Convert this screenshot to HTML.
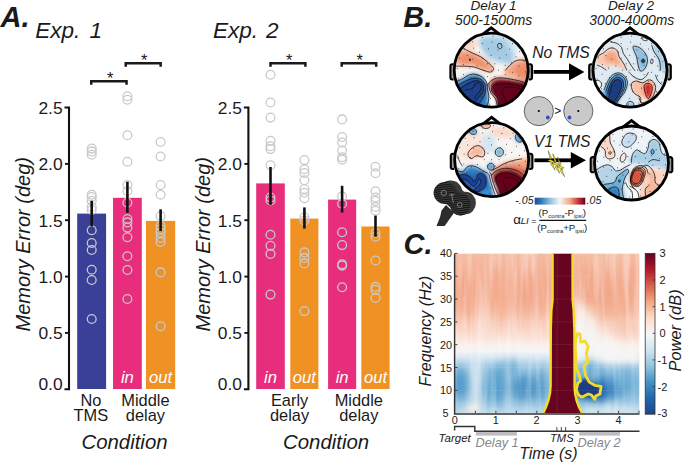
<!DOCTYPE html>
<html><head><meta charset="utf-8"><title>Figure</title>
<style>
html,body{margin:0;padding:0;background:#fff;}
body{width:685px;height:464px;overflow:hidden;}
svg{display:block;font-family:"Liberation Sans",sans-serif;}
</style></head><body>
<svg width="685" height="464" viewBox="0 0 685 464">
<rect width="685" height="464" fill="#fff"/>
<rect x="77.2" y="213.6" width="28.9" height="175.4" fill="#3a3f98"/>
<rect x="113.0" y="197.8" width="28.8" height="191.2" fill="#e72d7b"/>
<rect x="146.0" y="220.9" width="29.2" height="168.1" fill="#f09223"/>
<circle cx="91.7" cy="148.6" r="4.4" fill="none" stroke="#c9c9c9" stroke-width="1.3"/>
<circle cx="91.7" cy="151.4" r="4.4" fill="none" stroke="#c9c9c9" stroke-width="1.3"/>
<circle cx="91.7" cy="154.8" r="4.4" fill="none" stroke="#c9c9c9" stroke-width="1.3"/>
<circle cx="91.7" cy="194.8" r="4.4" fill="none" stroke="#c9c9c9" stroke-width="1.3"/>
<circle cx="91.7" cy="197" r="4.4" fill="none" stroke="#c9c9c9" stroke-width="1.3"/>
<circle cx="91.7" cy="200.7" r="4.4" fill="none" stroke="#c9c9c9" stroke-width="1.3"/>
<circle cx="91.7" cy="207" r="4.4" fill="none" stroke="#c9c9c9" stroke-width="1.3"/>
<circle cx="91.7" cy="210" r="4.4" fill="none" stroke="#c9c9c9" stroke-width="1.3"/>
<circle cx="91.7" cy="230.3" r="4.4" fill="none" stroke="#c9c9c9" stroke-width="1.3"/>
<circle cx="91.7" cy="243" r="4.4" fill="none" stroke="#c9c9c9" stroke-width="1.3"/>
<circle cx="91.7" cy="250" r="4.4" fill="none" stroke="#c9c9c9" stroke-width="1.3"/>
<circle cx="91.7" cy="269.7" r="4.4" fill="none" stroke="#c9c9c9" stroke-width="1.3"/>
<circle cx="91.7" cy="280" r="4.4" fill="none" stroke="#c9c9c9" stroke-width="1.3"/>
<circle cx="91.7" cy="319" r="4.4" fill="none" stroke="#c9c9c9" stroke-width="1.3"/>
<circle cx="127.4" cy="96.2" r="4.4" fill="none" stroke="#c9c9c9" stroke-width="1.3"/>
<circle cx="127.4" cy="99.7" r="4.4" fill="none" stroke="#c9c9c9" stroke-width="1.3"/>
<circle cx="127.4" cy="135.2" r="4.4" fill="none" stroke="#c9c9c9" stroke-width="1.3"/>
<circle cx="127.4" cy="161.7" r="4.4" fill="none" stroke="#c9c9c9" stroke-width="1.3"/>
<circle cx="127.4" cy="185" r="4.4" fill="none" stroke="#c9c9c9" stroke-width="1.3"/>
<circle cx="127.4" cy="191" r="4.4" fill="none" stroke="#c9c9c9" stroke-width="1.3"/>
<circle cx="127.4" cy="202.8" r="4.4" fill="none" stroke="#c9c9c9" stroke-width="1.3"/>
<circle cx="127.4" cy="219" r="4.4" fill="none" stroke="#c9c9c9" stroke-width="1.3"/>
<circle cx="127.4" cy="222.4" r="4.4" fill="none" stroke="#c9c9c9" stroke-width="1.3"/>
<circle cx="127.4" cy="227.6" r="4.4" fill="none" stroke="#c9c9c9" stroke-width="1.3"/>
<circle cx="127.4" cy="237.2" r="4.4" fill="none" stroke="#c9c9c9" stroke-width="1.3"/>
<circle cx="127.4" cy="256.2" r="4.4" fill="none" stroke="#c9c9c9" stroke-width="1.3"/>
<circle cx="127.4" cy="270" r="4.4" fill="none" stroke="#c9c9c9" stroke-width="1.3"/>
<circle cx="127.4" cy="299" r="4.4" fill="none" stroke="#c9c9c9" stroke-width="1.3"/>
<text x="127.4" y="383.2" text-anchor="middle" font-style="italic" font-size="16.6" fill="#fff">in</text>
<circle cx="160.6" cy="142" r="4.4" fill="none" stroke="#c9c9c9" stroke-width="1.3"/>
<circle cx="160.6" cy="156.5" r="4.4" fill="none" stroke="#c9c9c9" stroke-width="1.3"/>
<circle cx="160.6" cy="185" r="4.4" fill="none" stroke="#c9c9c9" stroke-width="1.3"/>
<circle cx="160.6" cy="194.8" r="4.4" fill="none" stroke="#c9c9c9" stroke-width="1.3"/>
<circle cx="160.6" cy="216" r="4.4" fill="none" stroke="#c9c9c9" stroke-width="1.3"/>
<circle cx="160.6" cy="225.9" r="4.4" fill="none" stroke="#c9c9c9" stroke-width="1.3"/>
<circle cx="160.6" cy="229.3" r="4.4" fill="none" stroke="#c9c9c9" stroke-width="1.3"/>
<circle cx="160.6" cy="232.8" r="4.4" fill="none" stroke="#c9c9c9" stroke-width="1.3"/>
<circle cx="160.6" cy="238" r="4.4" fill="none" stroke="#c9c9c9" stroke-width="1.3"/>
<circle cx="160.6" cy="242" r="4.4" fill="none" stroke="#c9c9c9" stroke-width="1.3"/>
<circle cx="160.6" cy="272.4" r="4.4" fill="none" stroke="#c9c9c9" stroke-width="1.3"/>
<circle cx="160.6" cy="326.2" r="4.4" fill="none" stroke="#c9c9c9" stroke-width="1.3"/>
<text x="160.6" y="383.2" text-anchor="middle" font-style="italic" font-size="16.6" fill="#fff">out</text>
<line x1="91.7" y1="200.7" x2="91.7" y2="226.5" stroke="#111" stroke-width="2.6"/>
<line x1="127.4" y1="181.7" x2="127.4" y2="212.7" stroke="#111" stroke-width="2.6"/>
<line x1="160.6" y1="209.3" x2="160.6" y2="231" stroke="#111" stroke-width="2.6"/>
<path d="M64.5,107.5 H69.0 V389.3 H64.5" fill="none" stroke="#111" stroke-width="2.1" stroke-linecap="butt"/>
<line x1="65.0" y1="332.9" x2="69.0" y2="332.9" stroke="#111" stroke-width="1.9"/>
<line x1="65.0" y1="276.6" x2="69.0" y2="276.6" stroke="#111" stroke-width="1.9"/>
<line x1="65.0" y1="220.2" x2="69.0" y2="220.2" stroke="#111" stroke-width="1.9"/>
<line x1="65.0" y1="163.9" x2="69.0" y2="163.9" stroke="#111" stroke-width="1.9"/>
<text x="62.6" y="390.0" text-anchor="end" font-size="17.4" fill="#1a1a1a">0.0</text>
<text x="62.6" y="339.3" text-anchor="end" font-size="17.4" fill="#1a1a1a">0.5</text>
<text x="62.6" y="283.0" text-anchor="end" font-size="17.4" fill="#1a1a1a">1.0</text>
<text x="62.6" y="226.6" text-anchor="end" font-size="17.4" fill="#1a1a1a">1.5</text>
<text x="62.6" y="170.3" text-anchor="end" font-size="17.4" fill="#1a1a1a">2.0</text>
<text x="62.6" y="113.9" text-anchor="end" font-size="17.4" fill="#1a1a1a">2.5</text>
<path d="M91.25,84.75 V81.25 H126.55 V84.75" fill="none" stroke="#1a1a1a" stroke-width="2.5"/>
<text x="110.2" y="83.65" text-anchor="middle" font-size="16.5" fill="#1a1a1a">*</text>
<path d="M125.75,66.85 V63.35 H160.65 V66.85" fill="none" stroke="#1a1a1a" stroke-width="2.5"/>
<text x="144.3" y="65.75" text-anchor="middle" font-size="16.5" fill="#1a1a1a">*</text>
<text transform="translate(30.2,244.3) rotate(-90)" text-anchor="middle" font-style="italic" font-size="20" fill="#1a1a1a">Memory Error (deg)</text>
<text x="90.9" y="405.5" text-anchor="middle" font-size="16.4" fill="#1a1a1a">No</text>
<text x="90.9" y="421.2" text-anchor="middle" font-size="16.4" fill="#1a1a1a">TMS</text>
<text x="145.4" y="405.5" text-anchor="middle" font-size="16.4" fill="#1a1a1a">Middle</text>
<text x="145.4" y="421.2" text-anchor="middle" font-size="16.4" fill="#1a1a1a">delay</text>
<text x="124.5" y="449.1" text-anchor="middle" font-style="italic" font-size="20.4" fill="#1a1a1a">Condition</text>
<rect x="256.2" y="183.4" width="28.6" height="205.6" fill="#e72d7b"/>
<rect x="290.3" y="218.6" width="28.1" height="170.4" fill="#f09223"/>
<rect x="328.1" y="199.6" width="28.1" height="189.4" fill="#e72d7b"/>
<rect x="361.3" y="226.5" width="28.3" height="162.5" fill="#f09223"/>
<circle cx="270.5" cy="74.7" r="4.4" fill="none" stroke="#c9c9c9" stroke-width="1.3"/>
<circle cx="270.5" cy="102.5" r="4.4" fill="none" stroke="#c9c9c9" stroke-width="1.3"/>
<circle cx="270.5" cy="117.6" r="4.4" fill="none" stroke="#c9c9c9" stroke-width="1.3"/>
<circle cx="270.5" cy="140.7" r="4.4" fill="none" stroke="#c9c9c9" stroke-width="1.3"/>
<circle cx="270.5" cy="146.2" r="4.4" fill="none" stroke="#c9c9c9" stroke-width="1.3"/>
<circle cx="270.5" cy="149.1" r="4.4" fill="none" stroke="#c9c9c9" stroke-width="1.3"/>
<circle cx="270.5" cy="165.2" r="4.4" fill="none" stroke="#c9c9c9" stroke-width="1.3"/>
<circle cx="270.5" cy="197.5" r="4.4" fill="none" stroke="#c9c9c9" stroke-width="1.3"/>
<circle cx="270.5" cy="200.5" r="4.4" fill="none" stroke="#c9c9c9" stroke-width="1.3"/>
<circle cx="270.5" cy="234.8" r="4.4" fill="none" stroke="#c9c9c9" stroke-width="1.3"/>
<circle cx="270.5" cy="245.8" r="4.4" fill="none" stroke="#c9c9c9" stroke-width="1.3"/>
<circle cx="270.5" cy="253.9" r="4.4" fill="none" stroke="#c9c9c9" stroke-width="1.3"/>
<circle cx="270.5" cy="294.6" r="4.4" fill="none" stroke="#c9c9c9" stroke-width="1.3"/>
<text x="270.5" y="383.2" text-anchor="middle" font-style="italic" font-size="16.6" fill="#fff">in</text>
<circle cx="304.4" cy="160.1" r="4.4" fill="none" stroke="#c9c9c9" stroke-width="1.3"/>
<circle cx="304.4" cy="169.3" r="4.4" fill="none" stroke="#c9c9c9" stroke-width="1.3"/>
<circle cx="304.4" cy="173" r="4.4" fill="none" stroke="#c9c9c9" stroke-width="1.3"/>
<circle cx="304.4" cy="180.3" r="4.4" fill="none" stroke="#c9c9c9" stroke-width="1.3"/>
<circle cx="304.4" cy="189" r="4.4" fill="none" stroke="#c9c9c9" stroke-width="1.3"/>
<circle cx="304.4" cy="192.7" r="4.4" fill="none" stroke="#c9c9c9" stroke-width="1.3"/>
<circle cx="304.4" cy="198.2" r="4.4" fill="none" stroke="#c9c9c9" stroke-width="1.3"/>
<circle cx="304.4" cy="217.2" r="4.4" fill="none" stroke="#c9c9c9" stroke-width="1.3"/>
<circle cx="304.4" cy="220.5" r="4.4" fill="none" stroke="#c9c9c9" stroke-width="1.3"/>
<circle cx="304.4" cy="252.4" r="4.4" fill="none" stroke="#c9c9c9" stroke-width="1.3"/>
<circle cx="304.4" cy="257.9" r="4.4" fill="none" stroke="#c9c9c9" stroke-width="1.3"/>
<circle cx="304.4" cy="263.4" r="4.4" fill="none" stroke="#c9c9c9" stroke-width="1.3"/>
<circle cx="304.4" cy="311.1" r="4.4" fill="none" stroke="#c9c9c9" stroke-width="1.3"/>
<text x="304.4" y="383.2" text-anchor="middle" font-style="italic" font-size="16.6" fill="#fff">out</text>
<circle cx="342.1" cy="119.4" r="4.4" fill="none" stroke="#c9c9c9" stroke-width="1.3"/>
<circle cx="342.1" cy="137" r="4.4" fill="none" stroke="#c9c9c9" stroke-width="1.3"/>
<circle cx="342.1" cy="142.5" r="4.4" fill="none" stroke="#c9c9c9" stroke-width="1.3"/>
<circle cx="342.1" cy="150.6" r="4.4" fill="none" stroke="#c9c9c9" stroke-width="1.3"/>
<circle cx="342.1" cy="157.2" r="4.4" fill="none" stroke="#c9c9c9" stroke-width="1.3"/>
<circle cx="342.1" cy="159.7" r="4.4" fill="none" stroke="#c9c9c9" stroke-width="1.3"/>
<circle cx="342.1" cy="196.4" r="4.4" fill="none" stroke="#c9c9c9" stroke-width="1.3"/>
<circle cx="342.1" cy="203.7" r="4.4" fill="none" stroke="#c9c9c9" stroke-width="1.3"/>
<circle cx="342.1" cy="232.3" r="4.4" fill="none" stroke="#c9c9c9" stroke-width="1.3"/>
<circle cx="342.1" cy="245.1" r="4.4" fill="none" stroke="#c9c9c9" stroke-width="1.3"/>
<circle cx="342.1" cy="264.2" r="4.4" fill="none" stroke="#c9c9c9" stroke-width="1.3"/>
<circle cx="342.1" cy="265.6" r="4.4" fill="none" stroke="#c9c9c9" stroke-width="1.3"/>
<circle cx="342.1" cy="287.3" r="4.4" fill="none" stroke="#c9c9c9" stroke-width="1.3"/>
<text x="342.1" y="383.2" text-anchor="middle" font-style="italic" font-size="16.6" fill="#fff">in</text>
<circle cx="375.5" cy="166.7" r="4.4" fill="none" stroke="#c9c9c9" stroke-width="1.3"/>
<circle cx="375.5" cy="173.3" r="4.4" fill="none" stroke="#c9c9c9" stroke-width="1.3"/>
<circle cx="375.5" cy="191.3" r="4.4" fill="none" stroke="#c9c9c9" stroke-width="1.3"/>
<circle cx="375.5" cy="197.5" r="4.4" fill="none" stroke="#c9c9c9" stroke-width="1.3"/>
<circle cx="375.5" cy="201" r="4.4" fill="none" stroke="#c9c9c9" stroke-width="1.3"/>
<circle cx="375.5" cy="207" r="4.4" fill="none" stroke="#c9c9c9" stroke-width="1.3"/>
<circle cx="375.5" cy="210.7" r="4.4" fill="none" stroke="#c9c9c9" stroke-width="1.3"/>
<circle cx="375.5" cy="233" r="4.4" fill="none" stroke="#c9c9c9" stroke-width="1.3"/>
<circle cx="375.5" cy="236.7" r="4.4" fill="none" stroke="#c9c9c9" stroke-width="1.3"/>
<circle cx="375.5" cy="260.5" r="4.4" fill="none" stroke="#c9c9c9" stroke-width="1.3"/>
<circle cx="375.5" cy="286.9" r="4.4" fill="none" stroke="#c9c9c9" stroke-width="1.3"/>
<circle cx="375.5" cy="289.8" r="4.4" fill="none" stroke="#c9c9c9" stroke-width="1.3"/>
<circle cx="375.5" cy="297.9" r="4.4" fill="none" stroke="#c9c9c9" stroke-width="1.3"/>
<text x="375.5" y="383.2" text-anchor="middle" font-style="italic" font-size="16.6" fill="#fff">out</text>
<line x1="270.5" y1="167" x2="270.5" y2="204.8" stroke="#111" stroke-width="2.6"/>
<line x1="304.4" y1="207.4" x2="304.4" y2="228.6" stroke="#111" stroke-width="2.6"/>
<line x1="342.1" y1="185.8" x2="342.1" y2="212.5" stroke="#111" stroke-width="2.6"/>
<line x1="375.5" y1="215.6" x2="375.5" y2="236.7" stroke="#111" stroke-width="2.6"/>
<path d="M243.9,107.5 H248.4 V389.3 H243.9" fill="none" stroke="#111" stroke-width="2.1" stroke-linecap="butt"/>
<line x1="244.4" y1="332.9" x2="248.4" y2="332.9" stroke="#111" stroke-width="1.9"/>
<line x1="244.4" y1="276.6" x2="248.4" y2="276.6" stroke="#111" stroke-width="1.9"/>
<line x1="244.4" y1="220.2" x2="248.4" y2="220.2" stroke="#111" stroke-width="1.9"/>
<line x1="244.4" y1="163.9" x2="248.4" y2="163.9" stroke="#111" stroke-width="1.9"/>
<text x="242.0" y="390.0" text-anchor="end" font-size="17.4" fill="#1a1a1a">0.0</text>
<text x="242.0" y="339.3" text-anchor="end" font-size="17.4" fill="#1a1a1a">0.5</text>
<text x="242.0" y="283.0" text-anchor="end" font-size="17.4" fill="#1a1a1a">1.0</text>
<text x="242.0" y="226.6" text-anchor="end" font-size="17.4" fill="#1a1a1a">1.5</text>
<text x="242.0" y="170.3" text-anchor="end" font-size="17.4" fill="#1a1a1a">2.0</text>
<text x="242.0" y="113.9" text-anchor="end" font-size="17.4" fill="#1a1a1a">2.5</text>
<path d="M270.5,66.85 V63.35 H305.4 V66.85" fill="none" stroke="#1a1a1a" stroke-width="2.5"/>
<text x="289.2" y="65.75" text-anchor="middle" font-size="16.5" fill="#1a1a1a">*</text>
<path d="M341.7,66.85 V63.35 H376.2 V66.85" fill="none" stroke="#1a1a1a" stroke-width="2.5"/>
<text x="359.6" y="65.75" text-anchor="middle" font-size="16.5" fill="#1a1a1a">*</text>
<text transform="translate(209.7,244.3) rotate(-90)" text-anchor="middle" font-style="italic" font-size="20" fill="#1a1a1a">Memory Error (deg)</text>
<text x="289.6" y="405.5" text-anchor="middle" font-size="16.4" fill="#1a1a1a">Early</text>
<text x="289.6" y="421.2" text-anchor="middle" font-size="16.4" fill="#1a1a1a">delay</text>
<text x="358.8" y="405.5" text-anchor="middle" font-size="16.4" fill="#1a1a1a">Middle</text>
<text x="358.8" y="421.2" text-anchor="middle" font-size="16.4" fill="#1a1a1a">delay</text>
<text x="326.1" y="449.1" text-anchor="middle" font-style="italic" font-size="20.4" fill="#1a1a1a">Condition</text>
<text x="0.6" y="27.1" font-weight="bold" font-style="italic" font-size="29" fill="#1a1a1a">A.</text>
<text x="35.2" y="37.8" font-style="italic" font-size="22.6" word-spacing="2.8" fill="#1a1a1a">Exp. 1</text>
<text x="212.9" y="37.9" font-style="italic" font-size="22.6" word-spacing="1.6" fill="#1a1a1a">Exp. 2</text>
<filter id="hb1" x="-20%" y="-20%" width="140%" height="140%"><feGaussianBlur stdDeviation="2.2"/></filter><filter id="hs1" x="-20%" y="-20%" width="140%" height="140%"><feGaussianBlur stdDeviation="0.9"/></filter><clipPath id="hc1"><circle cx="491.2" cy="70.2" r="37.0"/></clipPath>
<path d="M453.6,64.3 h-1.3 a1.9,1.9 0 0 0 -1.9,1.9 v11.4 a1.9,1.9 0 0 0 1.9,1.9 h1.3" fill="#9a9a9a" stroke="#000" stroke-width="2.1"/>
<path d="M528.8,64.3 h1.3 a1.9,1.9 0 0 1 1.9,1.9 v11.4 a1.9,1.9 0 0 1 -1.9,1.9 h-1.3" fill="#9a9a9a" stroke="#000" stroke-width="2.1"/>
<path d="M482.6,34.4 L491.2,27.8 L499.8,34.4" fill="#fff" stroke="#000" stroke-width="2.8" stroke-linejoin="miter"/>
<g clip-path="url(#hc1)">
<rect x="452.2" y="31.200000000000003" width="78.0" height="78.0" fill="#f8f5f3"/>
<g filter="url(#hb1)">
<path d="M517.4,48.2 C517.4,50.8 516.5,53.8 515.1,56.1 C513.7,58.4 511.3,60.6 508.9,62.0 C506.4,63.3 503.2,64.1 500.3,64.1 C497.5,64.1 494.3,63.3 491.8,62.0 C489.3,60.6 487.0,58.4 485.6,56.1 C484.1,53.8 483.3,50.8 483.3,48.2 C483.3,45.5 484.1,42.5 485.6,40.2 C487.0,37.9 489.3,35.7 491.8,34.4 C494.3,33.1 497.5,32.3 500.3,32.3 C503.2,32.3 506.4,33.1 508.9,34.4 C511.3,35.7 513.7,37.9 515.1,40.2 C516.5,42.5 517.4,45.5 517.4,48.2 Z" fill="#d3e5f1"/>
<path d="M509.8,46.2 C509.8,47.7 509.3,49.4 508.5,50.7 C507.6,52.0 506.3,53.2 504.8,54.0 C503.3,54.7 501.4,55.2 499.8,55.2 C498.1,55.2 496.2,54.7 494.7,54.0 C493.3,53.2 491.9,52.0 491.0,50.7 C490.2,49.4 489.7,47.7 489.7,46.2 C489.7,44.8 490.2,43.1 491.0,41.8 C491.9,40.5 493.3,39.3 494.7,38.5 C496.2,37.8 498.1,37.3 499.8,37.3 C501.4,37.3 503.3,37.8 504.8,38.5 C506.3,39.3 507.6,40.5 508.5,41.8 C509.3,43.1 509.8,44.8 509.8,46.2 Z" fill="#b3d3e8"/>
<path d="M504.8,44.9 C504.8,45.7 504.5,46.5 504.1,47.2 C503.7,47.9 503.0,48.5 502.3,48.9 C501.5,49.3 500.6,49.5 499.8,49.5 C498.9,49.5 498.0,49.3 497.2,48.9 C496.5,48.5 495.8,47.9 495.4,47.2 C495.0,46.5 494.7,45.7 494.7,44.9 C494.7,44.1 495.0,43.2 495.4,42.6 C495.8,41.9 496.5,41.2 497.2,40.9 C498.0,40.5 498.9,40.2 499.8,40.2 C500.6,40.2 501.5,40.5 502.3,40.9 C503.0,41.2 503.7,41.9 504.1,42.6 C504.5,43.2 504.8,44.1 504.8,44.9 Z" fill="#9ecae1"/>
<path d="M515.9,58.9 C515.9,60.0 515.4,61.3 514.7,62.2 C514.0,63.2 512.7,64.2 511.5,64.7 C510.2,65.3 508.6,65.6 507.1,65.6 C505.7,65.6 504.0,65.3 502.8,64.7 C501.5,64.2 500.3,63.2 499.6,62.2 C498.8,61.3 498.4,60.0 498.4,58.9 C498.4,57.7 498.8,56.4 499.6,55.5 C500.3,54.5 501.5,53.5 502.8,53.0 C504.0,52.4 505.7,52.1 507.1,52.1 C508.6,52.1 510.2,52.4 511.5,53.0 C512.7,53.5 514.0,54.5 514.7,55.5 C515.4,56.4 515.9,57.7 515.9,58.9 Z" fill="#d3e5f1"/>
<path d="M480.0,38.2 C482.0,36.2 488.8,36.0 492.9,37.0 C497.0,38.0 501.2,41.3 504.6,44.0 C507.9,46.7 511.8,50.3 512.7,53.4 C513.7,56.4 512.3,60.8 510.4,62.1 C508.4,63.5 504.6,62.4 501.1,61.5 C497.5,60.7 492.7,59.0 489.4,56.9 C486.1,54.7 482.8,51.8 481.2,48.7 C479.6,45.6 478.1,40.1 480.0,38.2 Z" fill="#a3cbe4"/>
<path d="M477.1,43.7 C477.1,44.7 476.6,45.8 475.9,46.6 C475.2,47.5 474.0,48.3 472.7,48.8 C471.4,49.2 469.8,49.5 468.3,49.5 C466.9,49.5 465.2,49.2 464.0,48.8 C462.7,48.3 461.5,47.5 460.8,46.6 C460.0,45.8 459.6,44.7 459.6,43.7 C459.6,42.8 460.0,41.7 460.8,40.8 C461.5,40.0 462.7,39.2 464.0,38.7 C465.2,38.2 466.9,37.9 468.3,37.9 C469.8,37.9 471.4,38.2 472.7,38.7 C474.0,39.2 475.2,40.0 475.9,40.8 C476.6,41.7 477.1,42.8 477.1,43.7 Z" fill="#fbd5c3"/>
<path d="M454.8,51.1 C457.0,49.2 464.1,50.0 468.3,50.7 C472.5,51.4 476.4,53.3 480.0,55.4 C483.6,57.4 487.7,60.9 490.1,63.1 C492.4,65.4 494.0,67.4 494.1,68.9 C494.2,70.4 492.7,71.9 490.6,72.0 C488.6,72.2 485.0,70.9 481.9,69.9 C478.8,68.9 475.8,66.8 472.2,66.2 C468.7,65.6 463.5,67.0 460.6,66.2 C457.7,65.5 455.7,64.3 454.8,61.8 C453.8,59.2 452.5,52.9 454.8,51.1 Z" fill="#f4a582"/>
<path d="M460.6,55.0 C461.9,53.7 467.0,54.2 470.3,55.0 C473.5,55.8 476.9,57.9 480.0,59.8 C483.0,61.8 488.1,65.2 488.7,66.6 C489.3,68.0 486.3,68.6 483.9,68.2 C481.4,67.7 477.7,64.6 474.2,63.7 C470.6,62.8 464.8,64.2 462.5,62.7 C460.3,61.3 459.3,56.3 460.6,55.0 Z" fill="#ec8c6b"/>
<path d="M510.0,65.1 C512.3,63.4 514.7,60.9 518.8,59.8 C522.8,58.8 531.7,55.5 534.3,58.9 C536.9,62.2 535.9,76.6 534.3,80.2 C532.7,83.7 528.1,80.8 524.6,80.2 C521.0,79.6 516.2,77.6 512.9,76.7 C509.6,75.8 506.1,76.0 504.8,74.8 C503.5,73.6 504.3,71.1 505.2,69.5 C506.1,67.9 507.8,66.7 510.0,65.1 Z" fill="#f4a582"/>
<path d="M514.9,67.6 C515.9,65.5 521.3,64.1 524.6,63.7 C527.8,63.3 532.7,62.5 534.3,65.1 C535.9,67.6 536.9,77.3 534.3,79.2 C531.7,81.1 522.0,78.2 518.8,76.3 C515.5,74.4 513.9,69.7 514.9,67.6 Z" fill="#ec8c6b"/>
<path d="M454.3,82.3 C455.3,80.7 457.5,81.2 459.0,80.5 C460.6,79.8 462.1,79.1 463.7,78.2 C465.2,77.3 466.6,75.9 468.4,75.3 C470.1,74.6 472.2,74.0 474.2,74.1 C476.1,74.2 478.3,75.0 480.0,75.8 C481.8,76.7 483.5,78.0 484.7,79.3 C485.9,80.7 486.6,82.3 487.0,84.0 C487.5,85.8 487.3,87.9 487.6,89.9 C487.9,91.8 488.7,93.8 488.8,95.7 C488.9,97.6 488.7,99.2 488.4,101.5 C488.1,103.9 490.2,108.4 487.0,109.7 C483.9,111.1 474.4,111.3 469.5,109.7 C464.7,108.2 460.6,103.7 457.8,100.4 C455.1,97.1 453.8,92.9 453.2,89.9 C452.6,86.8 453.4,83.8 454.3,82.3 Z" fill="#2f7fc4"/>
<path d="M458.4,86.1 C459.8,84.5 462.8,82.8 464.8,81.7 C466.9,80.6 468.7,79.9 470.7,79.3 C472.6,78.8 474.6,78.2 476.5,78.4 C478.4,78.6 480.7,79.6 482.1,80.7 C483.5,81.9 484.4,83.3 484.9,85.2 C485.4,87.1 485.6,90.1 485.2,92.2 C484.8,94.3 483.6,96.2 482.6,98.0 C481.6,99.9 480.3,101.3 479.4,103.3 C478.6,105.2 479.5,108.6 477.7,109.7 C475.8,110.8 471.2,111.2 468.4,109.7 C465.5,108.3 462.7,104.0 460.8,101.0 C458.8,97.9 457.1,94.1 456.7,91.6 C456.3,89.1 457.1,87.8 458.4,86.1 Z" fill="#1c3f8c"/>
<path d="M489.4,81.7 C490.3,80.1 492.7,78.9 494.6,78.2 C496.6,77.5 498.4,77.5 501.1,77.6 C503.7,77.7 506.9,78.2 510.4,78.8 C513.9,79.3 518.8,80.1 522.1,81.1 C525.4,82.1 528.9,79.8 530.3,84.6 C531.6,89.4 535.7,105.5 530.3,109.7 C524.8,113.9 503.4,111.6 497.6,109.7 C491.7,107.9 496.3,101.3 495.2,98.6 C494.1,95.9 492.1,95.2 491.1,93.4 C490.1,91.5 489.4,89.5 489.1,87.5 C488.8,85.6 488.5,83.2 489.4,81.7 Z" fill="#d6604d"/>
<path d="M491.1,83.8 C491.9,82.5 493.8,81.0 495.4,80.3 C497.1,79.5 498.6,79.3 501.1,79.3 C503.5,79.4 507.3,80.0 510.4,80.5 C513.5,81.0 516.6,81.3 519.7,82.3 C522.9,83.2 527.5,81.5 529.1,86.1 C530.6,90.7 534.1,105.8 529.1,109.7 C524.0,113.6 504.1,111.5 498.7,109.7 C493.4,108.0 498.0,101.9 497.0,99.2 C496.0,96.5 493.7,95.2 492.6,93.4 C491.6,91.5 491.0,89.7 490.8,88.1 C490.5,86.5 490.3,85.1 491.1,83.8 Z" fill="#67001f"/>
</g>
<g filter="url(#hs1)">
<path d="M485.6,75.3 C486.0,74.8 487.5,75.9 488.2,77.0 C488.9,78.1 489.4,79.9 489.6,81.7 C489.8,83.4 489.0,85.6 489.3,87.5 C489.5,89.5 490.1,91.5 491.0,93.4 C491.9,95.2 493.6,95.9 494.5,98.6 C495.4,101.3 497.3,107.9 496.6,109.7 C495.9,111.6 491.6,111.1 490.3,109.7 C489.0,108.4 489.1,103.8 488.9,101.5 C488.8,99.2 489.5,97.9 489.4,95.9 C489.2,94.0 488.4,91.8 488.1,89.9 C487.8,87.9 487.9,85.7 487.5,84.0 C487.1,82.4 486.2,81.4 485.9,79.9 C485.6,78.5 485.2,75.7 485.6,75.3 Z" fill="#fbfbfb"/>
<path d="M461.3,88.7 C462.5,87.0 465.2,85.5 467.2,84.3 C469.1,83.0 471.1,81.9 473.0,81.3 C475.0,80.8 477.2,80.6 478.9,81.1 C480.5,81.6 482.3,82.9 483.0,84.6 C483.7,86.3 483.6,89.1 483.1,91.0 C482.5,92.9 480.8,94.2 479.6,95.9 C478.4,97.7 476.8,99.4 475.9,101.5 C475.0,103.6 475.5,107.4 474.2,108.5 C472.9,109.7 470.2,109.7 468.4,108.5 C466.5,107.4 464.5,103.9 463.1,101.5 C461.7,99.2 460.5,96.7 460.2,94.5 C459.9,92.4 460.2,90.4 461.3,88.7 Z" fill="#1d3f8c"/>
<path d="M493.1,85.8 C493.9,84.7 495.1,83.0 497.0,82.3 C498.9,81.5 501.5,81.4 504.6,81.4 C507.6,81.5 511.4,81.7 515.1,82.6 C518.8,83.5 524.6,82.8 526.7,86.9 C528.9,91.1 532.2,103.8 527.9,107.4 C523.6,111.0 506.0,109.9 501.1,108.5 C496.1,107.2 499.7,101.7 498.5,99.2 C497.3,96.7 495.1,95.1 494.0,93.4 C493.0,91.6 492.6,90.0 492.4,88.7 C492.3,87.4 492.4,86.8 493.1,85.8 Z" fill="#67001f"/>
</g>
<path d="M458.6,46.8 C459.8,47.3 463.2,48.5 465.4,49.5 C467.7,50.6 469.6,51.8 472.2,53.0 C474.8,54.3 478.2,55.2 480.9,56.9 C483.7,58.6 486.6,61.2 488.7,63.1 C490.8,65.1 493.2,67.1 493.5,68.5 C493.9,70.0 492.4,71.7 490.8,72.0 C489.2,72.4 486.6,71.3 483.9,70.5 C481.1,69.6 477.4,67.7 474.2,67.0 C470.9,66.3 467.5,66.3 464.5,66.2 C461.4,66.1 457.2,66.2 455.7,66.2" fill="none" stroke="#111" stroke-width="0.8"/>
<path d="M501.8,45.3 C501.9,45.7 502.0,46.3 502.0,46.7 C501.9,47.1 501.8,47.6 501.6,47.9 C501.3,48.2 501.0,48.5 500.7,48.6 C500.3,48.7 499.9,48.7 499.6,48.6 C499.2,48.5 498.8,48.3 498.5,48.0 C498.2,47.6 497.9,47.2 497.7,46.8 C497.6,46.4 497.5,45.8 497.6,45.4 C497.6,45.0 497.7,44.5 497.9,44.2 C498.2,43.9 498.5,43.6 498.8,43.5 C499.2,43.4 499.6,43.4 500.0,43.5 C500.3,43.6 500.7,43.8 501.0,44.1 C501.3,44.4 501.6,44.9 501.8,45.3 Z" fill="none" stroke="#111" stroke-width="0.8"/>
<path d="M505.2,70.5 C506.2,69.5 508.7,66.0 511.0,64.3 C513.3,62.5 514.9,60.4 518.8,60.0 C522.6,59.6 531.7,61.5 534.3,61.8" fill="none" stroke="#111" stroke-width="0.8"/>
<path d="M454.3,82.3 C455.1,82.0 457.5,81.2 459.0,80.5 C460.6,79.8 462.1,79.1 463.7,78.2 C465.2,77.3 466.6,75.9 468.4,75.3 C470.1,74.6 472.2,74.0 474.2,74.1 C476.1,74.2 478.3,75.0 480.0,75.8 C481.8,76.7 483.5,78.0 484.7,79.3 C485.9,80.7 486.6,82.3 487.0,84.0 C487.5,85.8 487.3,87.9 487.6,89.9 C487.9,91.8 488.7,93.8 488.8,95.7 C488.9,97.6 488.8,99.7 488.4,101.5 C488.1,103.4 486.9,105.9 486.6,106.8" fill="none" stroke="#111" stroke-width="0.8"/>
<path d="M456.7,86.1 C458.0,85.3 462.5,82.6 464.8,81.4 C467.2,80.3 468.7,79.7 470.7,79.1 C472.6,78.6 474.6,77.9 476.5,78.2 C478.5,78.4 480.9,79.3 482.4,80.5 C483.8,81.7 484.8,83.2 485.3,85.2 C485.8,87.1 485.7,90.1 485.3,92.2 C484.8,94.3 483.6,96.1 482.6,98.0 C481.6,100.0 479.7,102.9 479.1,103.9" fill="none" stroke="#111" stroke-width="0.8"/>
<path d="M459.9,88.9 C461.1,88.1 465.0,85.5 467.2,84.3 C469.4,83.0 471.1,81.9 473.0,81.3 C475.0,80.8 477.2,80.6 478.9,81.1 C480.5,81.6 482.3,82.9 483.0,84.6 C483.7,86.3 483.6,89.1 483.1,91.0 C482.5,92.9 480.8,94.3 479.6,95.9 C478.3,97.6 476.1,100.1 475.4,101.0" fill="none" stroke="#111" stroke-width="0.8"/>
<path d="M464.8,90.1 C465.6,90.0 468.1,89.8 469.5,89.4 C471.0,89.0 472.7,88.4 473.6,87.5 C474.5,86.6 474.0,84.8 474.9,84.0 C475.8,83.2 477.8,82.5 478.9,82.8 C479.9,83.2 481.0,85.0 481.2,86.4 C481.4,87.7 480.8,89.6 480.0,91.0 C479.3,92.4 477.8,93.4 476.8,94.8 C475.7,96.2 474.1,98.7 473.6,99.4" fill="none" stroke="#111" stroke-width="0.8"/>
<path d="M486.6,85.8 C487.0,85.2 487.8,83.8 489.1,82.6 C490.5,81.4 492.6,79.5 494.6,78.8 C496.6,78.0 498.4,77.9 501.1,77.9 C503.7,78.0 506.9,78.5 510.4,79.1 C513.9,79.7 519.0,80.7 522.1,81.7 C525.2,82.7 527.9,84.6 529.1,85.2" fill="none" stroke="#111" stroke-width="0.8"/>
<path d="M489.1,82.8 C489.1,83.6 488.8,85.8 489.1,87.5 C489.5,89.3 490.1,91.5 491.1,93.4 C492.2,95.2 494.4,96.6 495.4,98.6 C496.5,100.7 497.0,104.5 497.3,105.6" fill="none" stroke="#111" stroke-width="0.8"/>
<path d="M499.0,105.6 C498.6,104.2 498.2,99.3 497.1,97.1 C496.0,94.9 493.3,94.0 492.4,92.4 C491.5,90.8 491.2,88.8 491.7,87.5 C492.2,86.2 493.1,85.2 495.2,84.6 C497.4,84.0 501.2,83.8 504.6,83.8 C507.9,83.8 511.6,83.9 515.1,84.6 C518.6,85.3 523.8,87.5 525.6,88.1" fill="none" stroke="#111" stroke-width="0.8"/>
<path d="M507.1,104.5 C506.6,103.2 504.9,99.3 504.1,97.1 C503.3,94.9 502.3,92.8 502.3,91.3 C502.4,89.7 502.8,88.5 504.6,87.8 C506.3,87.1 509.8,86.8 512.7,87.1 C515.7,87.3 520.5,88.8 522.1,89.2" fill="none" stroke="#111" stroke-width="0.8"/>
<path d="M491.2,70.2h0M498.6,70.2h0M494.9,76.6h0M487.5,76.6h0M483.8,70.2h0M487.5,63.8h0M494.9,63.8h0M505.3,74.6h0M500.1,82.0h0M491.4,85.0h0M482.7,82.3h0M477.2,75.0h0M477.1,65.8h0M482.3,58.4h0M491.0,55.4h0M499.7,58.1h0M505.2,65.4h0M512.6,72.3h0M509.5,81.4h0M502.8,88.2h0M493.9,91.5h0M484.4,90.5h0M476.2,85.6h0M471.0,77.5h0M469.8,68.1h0M472.9,59.0h0M479.6,52.2h0M488.5,48.9h0M498.0,49.9h0M506.2,54.8h0M511.4,62.9h0M518.8,75.8h0M515.2,84.9h0M508.7,92.2h0M500.1,96.9h0M490.5,98.3h0M480.9,96.4h0M472.6,91.3h0M466.5,83.6h0M463.4,74.4h0M463.6,64.6h0M467.2,55.5h0M473.7,48.2h0M482.3,43.5h0M491.9,42.1h0M501.5,44.0h0M509.8,49.1h0M515.9,56.8h0M519.0,66.0h0M525.2,71.9h0M523.0,82.3h0M517.7,91.6h0M509.8,98.7h0M500.1,103.1h0M489.5,104.2h0M479.1,102.0h0M469.8,96.7h0M462.7,88.8h0M458.3,79.1h0M457.2,68.5h0M459.4,58.1h0M464.7,48.8h0M472.6,41.7h0M482.3,37.3h0M492.9,36.2h0M503.3,38.4h0M512.6,43.7h0M519.7,51.6h0M524.1,61.3h0" stroke="#2a2a2a" stroke-width="0.95" stroke-linecap="round" fill="none"/>
</g>
<circle cx="491.2" cy="70.2" r="37.0" fill="none" stroke="#000" stroke-width="2.8"/>
<ellipse cx="469.9" cy="59.8" rx="0.9" ry="1.3" fill="#222"/>
<filter id="hb2" x="-20%" y="-20%" width="140%" height="140%"><feGaussianBlur stdDeviation="1.7"/></filter><filter id="hs2" x="-20%" y="-20%" width="140%" height="140%"><feGaussianBlur stdDeviation="0.9"/></filter><clipPath id="hc2"><circle cx="630.0" cy="70.2" r="37.0"/></clipPath>
<path d="M592.4,64.3 h-1.3 a1.9,1.9 0 0 0 -1.9,1.9 v11.4 a1.9,1.9 0 0 0 1.9,1.9 h1.3" fill="#9a9a9a" stroke="#000" stroke-width="2.1"/>
<path d="M667.6,64.3 h1.3 a1.9,1.9 0 0 1 1.9,1.9 v11.4 a1.9,1.9 0 0 1 -1.9,1.9 h-1.3" fill="#9a9a9a" stroke="#000" stroke-width="2.1"/>
<path d="M621.4,34.4 L630.0,27.8 L638.6,34.4" fill="#fff" stroke="#000" stroke-width="2.8" stroke-linejoin="miter"/>
<g clip-path="url(#hc2)">
<rect x="591.0" y="31.200000000000003" width="78.0" height="78.0" fill="#dfeaf3"/>
<g filter="url(#hb2)">
<path d="M653.1,45.2 C653.7,44.7 656.7,47.1 658.3,49.3 C660.0,51.4 661.8,54.8 663.0,58.0 C664.2,61.2 665.8,66.5 665.3,68.5 C664.8,70.6 661.2,71.7 660.1,70.3 C658.9,68.9 659.3,63.4 658.3,60.4 C657.3,57.3 655.1,54.7 654.2,52.2 C653.4,49.7 652.4,45.7 653.1,45.2 Z" fill="#a6cde4"/>
<path d="M595.3,59.2 C595.5,57.7 598.1,56.1 599.3,55.1 C600.6,54.1 601.3,54.4 602.8,53.4 C604.4,52.3 606.9,49.6 608.7,48.7 C610.4,47.8 611.9,47.7 613.4,48.1 C614.8,48.5 616.5,49.6 617.4,51.0 C618.4,52.5 618.1,54.7 619.2,56.9 C620.3,59.0 622.6,61.6 623.9,63.9 C625.1,66.1 627.6,69.7 626.8,70.3 C626.0,70.9 621.7,68.4 619.2,67.6 C616.7,66.8 613.6,65.0 611.6,65.3 C609.7,65.5 608.8,69.2 607.5,69.1 C606.3,69.1 605.6,65.9 604.0,65.0 C602.5,64.2 599.6,64.8 598.2,63.9 C596.7,62.9 595.1,60.7 595.3,59.2 Z" fill="#f9c7b0"/>
<path d="M604.0,57.1 C604.4,55.5 608.0,53.1 609.9,52.4 C611.7,51.7 613.8,51.8 615.1,52.9 C616.4,54.0 616.8,57.3 617.6,59.2 C618.3,61.1 620.1,63.5 619.4,64.1 C618.7,64.7 615.3,63.3 613.4,62.9 C611.4,62.5 609.1,62.7 607.5,61.8 C606.0,60.8 603.6,58.7 604.0,57.1 Z" fill="#f2a583"/>
<path d="M594.1,81.1 C594.7,79.6 597.5,80.0 598.8,80.5 C600.0,81.0 601.5,82.7 601.7,84.0 C601.9,85.3 601.0,87.2 599.9,88.1 C598.9,89.0 596.2,90.4 595.3,89.3 C594.3,88.1 593.5,82.6 594.1,81.1 Z" fill="#fdfdfd"/>
<path d="M633.2,46.4 C634.0,45.7 637.1,46.4 639.1,47.5 C641.0,48.6 643.5,50.6 644.9,52.8 C646.3,54.9 647.5,57.7 647.5,60.4 C647.5,63.0 646.1,66.8 644.9,68.5 C643.7,70.3 641.4,71.7 640.2,70.9 C639.1,70.1 638.5,66.2 637.9,63.9 C637.3,61.5 637.3,58.9 636.7,56.9 C636.1,54.8 635.0,53.4 634.4,51.6 C633.8,49.9 632.4,47.0 633.2,46.4 Z" fill="#8ec0de"/>
<path d="M602.3,94.5 C601.7,91.8 603.1,92.0 604.0,89.9 C604.9,87.7 606.2,84.1 607.5,81.7 C608.9,79.2 610.4,76.7 612.2,75.3 C613.9,73.8 616.1,72.9 618.0,72.9 C620.0,72.9 622.3,73.8 623.9,75.3 C625.4,76.7 627.0,79.4 627.4,81.7 C627.8,83.9 626.8,86.7 626.2,88.7 C625.6,90.6 625.0,91.6 623.9,93.4 C622.7,95.1 620.6,97.1 619.2,99.2 C617.8,101.3 617.6,105.0 615.7,106.2 C613.7,107.4 609.8,108.2 607.5,106.2 C605.3,104.3 602.8,97.3 602.3,94.5 Z" fill="#8ec0de"/>
<path d="M604.6,93.4 C604.6,89.8 607.2,85.6 608.7,82.8 C610.1,80.1 611.8,78.3 613.4,77.0 C614.9,75.7 616.5,75.2 618.0,75.3 C619.6,75.3 621.5,76.1 622.7,77.2 C623.9,78.4 624.8,80.4 625.0,82.3 C625.3,84.2 624.8,86.5 624.1,88.7 C623.4,90.8 622.3,92.7 620.9,95.1 C619.6,97.5 618.3,101.7 616.3,103.3 C614.2,104.8 610.6,106.1 608.7,104.5 C606.7,102.8 604.6,97.0 604.6,93.4 Z" fill="#2f7fc4"/>
<path d="M632.0,82.8 C632.9,81.8 635.0,81.1 636.7,81.1 C638.5,81.1 640.6,83.0 642.6,82.8 C644.5,82.7 646.6,80.1 648.4,79.9 C650.1,79.7 651.9,80.4 653.1,81.7 C654.3,82.9 655.6,85.2 655.6,87.5 C655.7,89.9 654.5,93.5 653.3,95.7 C652.1,97.9 650.4,99.4 648.4,100.6 C646.4,101.8 642.7,103.3 641.4,102.7 C640.0,102.1 641.4,98.7 640.2,97.1 C639.1,95.5 635.8,95.0 634.4,93.4 C632.9,91.8 631.8,89.3 631.5,87.5 C631.1,85.8 631.2,83.9 632.0,82.8 Z" fill="#f9c0a6"/>
<path d="M641.4,85.2 C642.3,83.1 646.4,82.3 648.4,82.3 C650.3,82.3 652.3,83.3 653.1,85.2 C653.8,87.0 653.8,91.1 653.1,93.4 C652.3,95.6 650.0,98.4 648.4,98.6 C646.7,98.8 644.3,96.8 643.1,94.5 C642.0,92.3 640.5,87.2 641.4,85.2 Z" fill="#f4a582"/>
<path d="M646.4,100.9 C646.4,101.5 646.2,102.1 645.8,102.6 C645.4,103.1 644.8,103.5 644.2,103.8 C643.5,104.1 642.7,104.2 642.0,104.2 C641.2,104.2 640.4,104.1 639.8,103.8 C639.1,103.5 638.5,103.1 638.1,102.6 C637.8,102.1 637.5,101.5 637.5,100.9 C637.5,100.4 637.8,99.8 638.1,99.3 C638.5,98.8 639.1,98.4 639.8,98.1 C640.4,97.8 641.2,97.7 642.0,97.7 C642.7,97.7 643.5,97.8 644.2,98.1 C644.8,98.4 645.4,98.8 645.8,99.3 C646.2,99.8 646.4,100.4 646.4,100.9 Z" fill="#fbe3d8"/>
<path d="M633.8,104.5 C633.8,105.0 633.6,105.5 633.3,106.0 C633.0,106.4 632.5,106.8 632.0,107.1 C631.5,107.3 630.9,107.5 630.3,107.5 C629.7,107.5 629.0,107.3 628.5,107.1 C628.0,106.8 627.5,106.4 627.3,106.0 C627.0,105.5 626.8,105.0 626.8,104.5 C626.8,103.9 627.0,103.4 627.3,102.9 C627.5,102.5 628.0,102.1 628.5,101.8 C629.0,101.6 629.7,101.4 630.3,101.4 C630.9,101.4 631.5,101.6 632.0,101.8 C632.5,102.1 633.0,102.5 633.3,102.9 C633.6,103.4 633.8,103.9 633.8,104.5 Z" fill="#9ecae1"/>
</g>
<g filter="url(#hs2)">
<path d="M647.4,40.2 C647.3,40.4 647.1,40.6 646.7,40.7 C646.4,40.8 645.9,40.8 645.5,40.7 C645.0,40.7 644.4,40.5 643.9,40.3 C643.4,40.1 642.8,39.9 642.4,39.6 C642.0,39.3 641.6,39.0 641.4,38.7 C641.2,38.5 641.2,38.2 641.2,38.0 C641.3,37.8 641.5,37.6 641.9,37.5 C642.2,37.5 642.7,37.4 643.2,37.5 C643.6,37.6 644.2,37.7 644.7,37.9 C645.3,38.1 645.8,38.4 646.2,38.6 C646.6,38.9 647.0,39.2 647.2,39.5 C647.4,39.7 647.5,40.0 647.4,40.2 Z" fill="#fdfdfd"/>
<path d="M653.1,61.3 C653.1,61.7 653.0,62.2 652.9,62.5 C652.8,62.9 652.7,63.2 652.5,63.4 C652.3,63.6 652.1,63.8 651.9,63.8 C651.7,63.8 651.5,63.6 651.3,63.4 C651.1,63.2 651.0,62.9 650.9,62.5 C650.8,62.2 650.7,61.7 650.7,61.3 C650.7,60.9 650.8,60.4 650.9,60.1 C651.0,59.7 651.1,59.4 651.3,59.2 C651.5,59.0 651.7,58.8 651.9,58.8 C652.1,58.8 652.3,59.0 652.5,59.2 C652.7,59.4 652.8,59.7 652.9,60.1 C653.0,60.4 653.1,60.9 653.1,61.3 Z" fill="#fdfdfd"/>
<path d="M644.9,60.9 C644.9,61.3 644.8,61.7 644.7,61.9 C644.5,62.2 644.3,62.5 644.0,62.7 C643.8,62.8 643.4,62.9 643.1,62.9 C642.8,62.9 642.5,62.8 642.3,62.7 C642.0,62.5 641.8,62.2 641.6,61.9 C641.5,61.7 641.4,61.3 641.4,60.9 C641.4,60.6 641.5,60.2 641.6,60.0 C641.8,59.7 642.0,59.4 642.3,59.2 C642.5,59.1 642.8,59.0 643.1,59.0 C643.4,59.0 643.8,59.1 644.0,59.2 C644.3,59.4 644.5,59.7 644.7,60.0 C644.8,60.2 644.9,60.6 644.9,60.9 Z" fill="#2a75b8"/>
<path d="M607.5,95.1 C608.0,91.9 610.3,85.5 611.6,82.8 C612.9,80.2 613.8,80.0 615.1,79.3 C616.4,78.7 618.0,78.6 619.2,79.1 C620.4,79.6 621.7,80.7 622.1,82.3 C622.5,83.9 622.1,86.5 621.5,88.7 C620.9,90.8 619.8,92.9 618.6,95.1 C617.4,97.3 616.2,100.9 614.5,102.1 C612.9,103.3 609.9,103.3 608.7,102.1 C607.5,100.9 607.0,98.3 607.5,95.1 Z" fill="#1f3a80"/>
<path d="M644.9,85.8 C645.3,84.3 647.0,84.0 648.0,84.0 C649.1,84.1 650.8,84.8 651.3,86.1 C651.8,87.5 651.5,90.2 651.0,92.2 C650.5,94.2 649.3,97.9 648.4,98.0 C647.5,98.1 646.4,94.8 645.8,92.8 C645.2,90.7 644.5,87.2 644.9,85.8 Z" fill="#d42a2a"/>
</g>
<path d="M595.3,59.2 C595.9,58.5 598.1,56.1 599.3,55.1 C600.6,54.1 601.3,54.4 602.8,53.4 C604.4,52.3 606.9,49.6 608.7,48.7 C610.4,47.8 611.9,47.7 613.4,48.1 C614.8,48.5 616.5,49.6 617.4,51.0 C618.4,52.5 618.1,54.7 619.2,56.9 C620.3,59.0 622.6,61.6 623.9,63.9 C625.1,66.1 626.3,69.2 626.8,70.3" fill="none" stroke="#111" stroke-width="0.8"/>
<path d="M609.9,41.7 C611.0,42.0 614.9,42.5 616.9,43.4 C618.8,44.4 620.5,45.9 621.5,47.5 C622.6,49.2 622.3,51.4 623.3,53.4 C624.3,55.3 626.1,57.3 627.4,59.2 C628.6,61.1 629.6,63.1 630.9,65.0 C632.1,67.0 634.3,69.9 635.0,70.9" fill="none" stroke="#111" stroke-width="0.8"/>
<path d="M633.2,46.4 C634.0,45.7 637.1,46.4 639.1,47.5 C641.0,48.6 643.5,50.6 644.9,52.8 C646.3,54.9 647.5,57.7 647.5,60.4 C647.5,63.0 646.1,66.8 644.9,68.5 C643.7,70.3 641.4,71.7 640.2,70.9 C639.1,70.1 638.5,66.2 637.9,63.9 C637.3,61.5 637.3,58.9 636.7,56.9 C636.1,54.8 635.0,53.4 634.4,51.6 C633.8,49.9 632.4,47.0 633.2,46.4 Z" fill="none" stroke="#111" stroke-width="0.8"/>
<path d="M644.7,60.9 C644.7,61.2 644.6,61.6 644.5,61.8 C644.3,62.1 644.1,62.3 643.9,62.5 C643.7,62.6 643.4,62.7 643.1,62.7 C642.9,62.7 642.6,62.6 642.4,62.5 C642.2,62.3 642.0,62.1 641.8,61.8 C641.7,61.6 641.6,61.2 641.6,60.9 C641.6,60.7 641.7,60.3 641.8,60.1 C642.0,59.8 642.2,59.6 642.4,59.4 C642.6,59.3 642.9,59.2 643.1,59.2 C643.4,59.2 643.7,59.3 643.9,59.4 C644.1,59.6 644.3,59.8 644.5,60.1 C644.6,60.3 644.7,60.7 644.7,60.9 Z" fill="none" stroke="#111" stroke-width="0.8"/>
<path d="M643.8,60.9 C643.8,61.1 643.8,61.2 643.7,61.4 C643.7,61.5 643.6,61.6 643.5,61.7 C643.4,61.7 643.3,61.8 643.1,61.8 C643.0,61.8 642.9,61.7 642.8,61.7 C642.7,61.6 642.6,61.5 642.5,61.4 C642.5,61.2 642.4,61.1 642.4,60.9 C642.4,60.8 642.5,60.7 642.5,60.5 C642.6,60.4 642.7,60.3 642.8,60.2 C642.9,60.2 643.0,60.1 643.1,60.1 C643.3,60.1 643.4,60.2 643.5,60.2 C643.6,60.3 643.7,60.4 643.7,60.5 C643.8,60.7 643.8,60.8 643.8,60.9 Z" fill="none" stroke="#111" stroke-width="0.8"/>
<path d="M653.1,61.3 C653.1,61.7 653.0,62.2 652.9,62.5 C652.8,62.9 652.7,63.2 652.5,63.4 C652.3,63.6 652.1,63.8 651.9,63.8 C651.7,63.8 651.5,63.6 651.3,63.4 C651.1,63.2 651.0,62.9 650.9,62.5 C650.8,62.2 650.7,61.7 650.7,61.3 C650.7,60.9 650.8,60.4 650.9,60.1 C651.0,59.7 651.1,59.4 651.3,59.2 C651.5,59.0 651.7,58.8 651.9,58.8 C652.1,58.8 652.3,59.0 652.5,59.2 C652.7,59.4 652.8,59.7 652.9,60.1 C653.0,60.4 653.1,60.9 653.1,61.3 Z" fill="none" stroke="#111" stroke-width="0.8"/>
<path d="M647.4,40.2 C647.3,40.4 647.1,40.6 646.7,40.7 C646.4,40.8 645.9,40.8 645.5,40.7 C645.0,40.7 644.4,40.5 643.9,40.3 C643.4,40.1 642.8,39.9 642.4,39.6 C642.0,39.3 641.6,39.0 641.4,38.7 C641.2,38.5 641.2,38.2 641.2,38.0 C641.3,37.8 641.5,37.6 641.9,37.5 C642.2,37.5 642.7,37.4 643.2,37.5 C643.6,37.6 644.2,37.7 644.7,37.9 C645.3,38.1 645.8,38.4 646.2,38.6 C646.6,38.9 647.0,39.2 647.2,39.5 C647.4,39.7 647.5,40.0 647.4,40.2 Z" fill="none" stroke="#111" stroke-width="0.8"/>
<path d="M651.9,45.2 C652.2,46.2 652.5,48.7 653.6,51.0 C654.8,53.4 657.8,56.7 658.9,59.2 C660.0,61.7 660.1,64.3 660.3,66.2 C660.5,68.2 660.1,70.1 660.1,70.9" fill="none" stroke="#111" stroke-width="0.8"/>
<path d="M660.1,47.5 C660.6,48.5 662.1,51.2 663.0,53.4 C663.9,55.5 665.2,59.2 665.7,60.4" fill="none" stroke="#111" stroke-width="0.8"/>
<path d="M597.0,65.0 C597.8,65.4 600.1,66.3 601.7,67.1 C603.2,68.0 605.6,69.8 606.4,70.3" fill="none" stroke="#111" stroke-width="0.8"/>
<path d="M604.0,89.9 C604.6,88.5 606.2,84.1 607.5,81.7 C608.9,79.2 610.4,76.7 612.2,75.3 C613.9,73.8 616.1,72.9 618.0,72.9 C620.0,72.9 622.3,73.8 623.9,75.3 C625.4,76.7 627.0,79.4 627.4,81.7 C627.8,83.9 626.8,86.7 626.2,88.7 C625.6,90.6 625.0,91.6 623.9,93.4 C622.7,95.1 620.7,97.3 619.2,99.2 C617.7,101.1 615.8,104.1 615.1,105.0" fill="none" stroke="#111" stroke-width="0.8"/>
<path d="M605.8,91.6 C606.4,90.0 608.0,84.7 609.3,82.3 C610.5,79.8 611.9,78.0 613.4,76.8 C614.8,75.5 616.4,74.7 618.0,74.7 C619.6,74.7 621.7,75.5 622.9,76.8 C624.2,78.0 625.3,80.0 625.6,82.0 C625.9,84.0 625.3,86.6 624.6,88.7 C623.9,90.8 622.8,92.5 621.5,94.8 C620.3,97.0 617.8,100.9 617.1,102.1" fill="none" stroke="#111" stroke-width="0.8"/>
<path d="M607.5,93.4 C608.1,91.6 609.8,85.3 611.0,82.8 C612.2,80.4 613.5,79.3 614.8,78.4 C616.0,77.5 617.3,77.0 618.6,77.2 C619.9,77.5 621.6,78.7 622.5,79.9 C623.3,81.2 623.6,82.9 623.6,84.6 C623.6,86.3 623.2,88.0 622.5,89.9 C621.8,91.7 620.7,93.3 619.4,95.5 C618.2,97.6 615.8,101.5 615.1,102.7" fill="none" stroke="#111" stroke-width="0.8"/>
<path d="M609.3,95.1 C609.8,93.2 611.4,85.9 612.4,83.4 C613.5,81.0 614.6,80.9 615.7,80.3 C616.8,79.7 618.2,79.5 619.2,79.9 C620.2,80.3 621.2,81.2 621.5,82.6 C621.8,84.1 621.5,86.6 620.9,88.7 C620.4,90.8 619.2,92.9 618.0,95.1 C616.9,97.3 614.6,100.9 613.9,102.1" fill="none" stroke="#111" stroke-width="0.8"/>
<path d="M632.0,82.8 C632.9,81.8 635.0,81.1 636.7,81.1 C638.5,81.1 640.6,83.0 642.6,82.8 C644.5,82.7 646.6,80.1 648.4,79.9 C650.1,79.7 651.9,80.4 653.1,81.7 C654.3,82.9 655.6,85.2 655.6,87.5 C655.7,89.9 654.5,93.5 653.3,95.7 C652.1,97.9 650.4,99.4 648.4,100.6 C646.4,101.8 642.7,103.3 641.4,102.7 C640.0,102.1 641.4,98.7 640.2,97.1 C639.1,95.5 635.8,95.0 634.4,93.4 C632.9,91.8 631.8,89.3 631.5,87.5 C631.1,85.8 631.2,83.9 632.0,82.8 Z" fill="none" stroke="#111" stroke-width="0.8"/>
<path d="M644.3,85.4 C644.8,83.8 646.8,83.3 648.0,83.3 C649.3,83.4 651.3,84.2 651.9,85.8 C652.5,87.3 652.1,90.3 651.5,92.4 C651.0,94.6 649.4,98.6 648.4,98.7 C647.3,98.8 645.9,95.2 645.2,93.0 C644.6,90.8 643.8,87.0 644.3,85.4 Z" fill="none" stroke="#111" stroke-width="0.8"/>
<path d="M633.8,104.5 C633.8,105.0 633.6,105.5 633.3,106.0 C633.0,106.4 632.5,106.8 632.0,107.1 C631.5,107.3 630.9,107.5 630.3,107.5 C629.7,107.5 629.0,107.3 628.5,107.1 C628.0,106.8 627.5,106.4 627.3,106.0 C627.0,105.5 626.8,105.0 626.8,104.5 C626.8,103.9 627.0,103.4 627.3,102.9 C627.5,102.5 628.0,102.1 628.5,101.8 C629.0,101.6 629.7,101.4 630.3,101.4 C630.9,101.4 631.5,101.6 632.0,101.8 C632.5,102.1 633.0,102.5 633.3,102.9 C633.6,103.4 633.8,103.9 633.8,104.5 Z" fill="none" stroke="#111" stroke-width="0.8"/>
<path d="M593.5,81.1 C594.4,81.0 597.4,80.0 598.8,80.5 C600.1,81.0 601.5,82.7 601.7,84.0 C601.9,85.3 601.0,87.2 599.9,88.1 C598.9,89.0 596.0,89.4 595.3,89.6" fill="none" stroke="#111" stroke-width="0.8"/>
<path d="M628.5,71.8 C629.1,72.3 630.8,74.2 632.0,75.3 C633.3,76.3 634.6,77.5 636.1,78.2 C637.7,78.9 639.8,79.9 641.4,79.6 C643.0,79.3 644.7,77.6 645.8,76.4 C647.0,75.2 648.0,73.0 648.4,72.3" fill="none" stroke="#111" stroke-width="0.8"/>
<path d="M655.4,74.7 C655.8,75.6 656.7,78.9 657.7,80.5 C658.8,82.2 661.1,83.9 661.8,84.6" fill="none" stroke="#111" stroke-width="0.8"/>
<path d="M639.1,98.0 C639.4,98.9 640.4,102.1 641.4,103.3 C642.4,104.5 644.3,104.7 644.9,105.0" fill="none" stroke="#111" stroke-width="0.8"/>
<path d="M630.0,70.2h0M637.4,70.2h0M633.7,76.6h0M626.3,76.6h0M622.6,70.2h0M626.3,63.8h0M633.7,63.8h0M644.1,74.6h0M638.9,82.0h0M630.2,85.0h0M621.5,82.3h0M616.0,75.0h0M615.9,65.8h0M621.1,58.4h0M629.8,55.4h0M638.5,58.1h0M644.0,65.4h0M651.4,72.3h0M648.3,81.4h0M641.6,88.2h0M632.7,91.5h0M623.2,90.5h0M615.0,85.6h0M609.8,77.5h0M608.6,68.1h0M611.7,59.0h0M618.4,52.2h0M627.3,48.9h0M636.8,49.9h0M645.0,54.8h0M650.2,62.9h0M657.6,75.8h0M654.0,84.9h0M647.5,92.2h0M638.9,96.9h0M629.3,98.3h0M619.7,96.4h0M611.4,91.3h0M605.3,83.6h0M602.2,74.4h0M602.4,64.6h0M606.0,55.5h0M612.5,48.2h0M621.1,43.5h0M630.7,42.1h0M640.3,44.0h0M648.6,49.1h0M654.7,56.8h0M657.8,66.0h0M664.0,71.9h0M661.8,82.3h0M656.5,91.6h0M648.6,98.7h0M638.9,103.1h0M628.3,104.2h0M617.9,102.0h0M608.6,96.7h0M601.5,88.8h0M597.1,79.1h0M596.0,68.5h0M598.2,58.1h0M603.5,48.8h0M611.4,41.7h0M621.1,37.3h0M631.7,36.2h0M642.1,38.4h0M651.4,43.7h0M658.5,51.6h0M662.9,61.3h0" stroke="#2a2a2a" stroke-width="0.95" stroke-linecap="round" fill="none"/>
</g>
<circle cx="630.0" cy="70.2" r="37.0" fill="none" stroke="#000" stroke-width="2.8"/>
<filter id="hb3" x="-20%" y="-20%" width="140%" height="140%"><feGaussianBlur stdDeviation="2.2"/></filter><filter id="hs3" x="-20%" y="-20%" width="140%" height="140%"><feGaussianBlur stdDeviation="0.9"/></filter><clipPath id="hc3"><circle cx="491.65" cy="159.7" r="37.0"/></clipPath>
<path d="M454.0,153.8 h-1.3 a1.9,1.9 0 0 0 -1.9,1.9 v11.4 a1.9,1.9 0 0 0 1.9,1.9 h1.3" fill="#9a9a9a" stroke="#000" stroke-width="2.1"/>
<path d="M529.2,153.8 h1.3 a1.9,1.9 0 0 1 1.9,1.9 v11.4 a1.9,1.9 0 0 1 -1.9,1.9 h-1.3" fill="#9a9a9a" stroke="#000" stroke-width="2.1"/>
<path d="M483.0,123.9 L491.6,117.3 L500.2,123.9" fill="#fff" stroke="#000" stroke-width="2.8" stroke-linejoin="miter"/>
<g clip-path="url(#hc3)">
<rect x="452.65" y="120.69999999999999" width="78.0" height="78.0" fill="#f8f5f3"/>
<g filter="url(#hb3)">
<path d="M485.8,145.0 C485.8,147.6 485.0,150.5 483.7,152.7 C482.4,155.0 480.3,157.1 478.0,158.4 C475.8,159.7 472.9,160.5 470.3,160.5 C467.7,160.5 464.8,159.7 462.5,158.4 C460.3,157.1 458.1,155.0 456.8,152.7 C455.5,150.5 454.8,147.6 454.8,145.0 C454.8,142.4 455.5,139.5 456.8,137.2 C458.1,135.0 460.3,132.8 462.5,131.5 C464.8,130.2 467.7,129.5 470.3,129.5 C472.9,129.5 475.8,130.2 478.0,131.5 C480.3,132.8 482.4,135.0 483.7,137.2 C485.0,139.5 485.8,142.4 485.8,145.0 Z" fill="#fbe6dc"/>
<path d="M495.5,143.0 C495.5,144.6 495.1,146.5 494.6,147.9 C494.0,149.3 493.1,150.6 492.1,151.4 C491.1,152.2 489.8,152.7 488.7,152.7 C487.6,152.7 486.3,152.2 485.3,151.4 C484.3,150.6 483.4,149.3 482.8,147.9 C482.3,146.5 481.9,144.6 481.9,143.0 C481.9,141.4 482.3,139.6 482.8,138.2 C483.4,136.8 484.3,135.4 485.3,134.6 C486.3,133.8 487.6,133.3 488.7,133.3 C489.8,133.3 491.1,133.8 492.1,134.6 C493.1,135.4 494.0,136.8 494.6,138.2 C495.1,139.6 495.5,141.4 495.5,143.0 Z" fill="#d3e5f1"/>
<path d="M490.5,129.3 C490.9,127.8 495.4,127.2 498.7,127.0 C502.0,126.8 507.7,127.0 510.4,128.2 C513.1,129.3 515.5,132.5 515.1,134.0 C514.7,135.6 511.2,137.1 508.1,137.5 C504.9,137.9 499.3,137.7 496.4,136.4 C493.5,135.0 490.2,130.9 490.5,129.3 Z" fill="#fbd9c8"/>
<path d="M490.4,125.6 C490.4,126.1 490.2,126.6 489.8,127.0 C489.4,127.5 488.8,127.9 488.1,128.1 C487.4,128.3 486.6,128.5 485.8,128.5 C485.0,128.5 484.1,128.3 483.5,128.1 C482.8,127.9 482.1,127.5 481.8,127.0 C481.4,126.6 481.1,126.1 481.1,125.6 C481.1,125.1 481.4,124.5 481.8,124.1 C482.1,123.7 482.8,123.3 483.5,123.1 C484.1,122.8 485.0,122.7 485.8,122.7 C486.6,122.7 487.4,122.8 488.1,123.1 C488.8,123.3 489.4,123.7 489.8,124.1 C490.2,124.5 490.4,125.1 490.4,125.6 Z" fill="#f7b89c"/>
<path d="M476.4,132.7 C476.3,133.2 475.9,133.6 475.5,133.9 C475.0,134.2 474.4,134.4 473.8,134.4 C473.1,134.5 472.4,134.3 471.8,134.1 C471.2,133.9 470.6,133.5 470.1,133.1 C469.7,132.7 469.3,132.1 469.1,131.6 C469.0,131.1 469.0,130.5 469.2,130.1 C469.3,129.6 469.7,129.2 470.1,128.9 C470.6,128.6 471.2,128.4 471.8,128.4 C472.4,128.3 473.2,128.4 473.8,128.7 C474.4,128.9 475.0,129.3 475.5,129.7 C475.9,130.1 476.3,130.7 476.4,131.2 C476.6,131.7 476.6,132.3 476.4,132.7 Z" fill="#4f9bd0"/>
<path d="M522.8,136.3 C523.1,137.0 523.2,137.9 523.1,138.6 C523.0,139.4 522.7,140.2 522.4,140.7 C522.0,141.3 521.3,141.8 520.7,142.0 C520.1,142.2 519.4,142.2 518.7,142.1 C518.0,141.9 517.3,141.5 516.8,140.9 C516.3,140.4 515.8,139.7 515.5,138.9 C515.2,138.2 515.1,137.3 515.2,136.6 C515.3,135.8 515.6,135.0 515.9,134.5 C516.3,133.9 516.9,133.4 517.6,133.2 C518.2,133.0 518.9,133.0 519.6,133.1 C520.3,133.3 521.0,133.7 521.5,134.3 C522.0,134.8 522.5,135.5 522.8,136.3 Z" fill="#4f9bd0"/>
<path d="M468.3,153.7 C468.5,151.9 470.4,149.2 472.2,147.9 C474.0,146.6 477.0,145.5 479.0,145.9 C481.0,146.4 483.6,149.0 484.2,150.8 C484.9,152.6 484.2,155.8 482.9,156.6 C481.5,157.4 478.0,155.3 476.1,155.6 C474.2,156.0 472.5,158.9 471.2,158.5 C470.0,158.2 468.2,155.5 468.3,153.7 Z" fill="#f7b799"/>
<path d="M503.6,152.1 C503.6,152.9 503.4,153.7 503.1,154.3 C502.7,154.9 502.1,155.5 501.5,155.8 C500.9,156.2 500.1,156.4 499.4,156.4 C498.7,156.4 497.8,156.2 497.2,155.8 C496.6,155.5 496.0,154.9 495.7,154.3 C495.3,153.7 495.1,152.9 495.1,152.1 C495.1,151.4 495.3,150.6 495.7,150.0 C496.0,149.4 496.6,148.8 497.2,148.5 C497.8,148.1 498.7,147.9 499.4,147.9 C500.1,147.9 500.9,148.1 501.5,148.5 C502.1,148.8 502.7,149.4 503.1,150.0 C503.4,150.6 503.6,151.4 503.6,152.1 Z" fill="#9ecae1"/>
<path d="M494.1,166.7 C494.1,167.3 494.0,167.9 493.7,168.4 C493.4,168.9 493.0,169.4 492.5,169.7 C492.0,170.0 491.4,170.2 490.8,170.2 C490.3,170.2 489.7,170.0 489.2,169.7 C488.7,169.4 488.3,168.9 488.0,168.4 C487.7,167.9 487.5,167.3 487.5,166.7 C487.5,166.1 487.7,165.5 488.0,164.9 C488.3,164.4 488.7,164.0 489.2,163.7 C489.7,163.4 490.3,163.2 490.8,163.2 C491.4,163.2 492.0,163.4 492.5,163.7 C493.0,164.0 493.4,164.4 493.7,164.9 C494.0,165.5 494.1,166.1 494.1,166.7 Z" fill="#4f9bd0"/>
<path d="M490.0,172.6 C490.2,171.9 494.3,168.5 496.4,167.0 C498.4,165.5 499.9,164.5 502.2,163.5 C504.6,162.5 507.1,161.9 510.4,161.2 C513.7,160.5 518.2,159.8 522.1,159.4 C526.0,159.0 531.8,155.4 533.8,158.8 C535.7,162.2 535.3,177.1 533.8,179.9 C532.2,182.6 527.1,176.8 524.4,175.2 C521.7,173.5 520.1,171.2 517.4,169.9 C514.7,168.7 510.8,167.9 508.1,167.6 C505.3,167.3 503.2,167.6 501.1,168.2 C498.9,168.8 497.1,170.4 495.2,171.1 C493.4,171.8 489.8,173.3 490.0,172.6 Z" fill="#f4a582"/>
<path d="M492.6,173.1 C493.2,172.5 496.1,169.3 498.7,168.2 C501.3,167.0 504.6,166.2 508.1,166.1 C511.6,165.9 515.5,165.9 519.7,167.2 C524.0,168.6 531.4,171.7 533.8,174.0 C536.1,176.3 535.3,180.8 533.8,181.0 C532.2,181.3 527.1,177.2 524.4,175.4 C521.7,173.6 520.1,171.5 517.4,170.3 C514.7,169.0 510.8,168.2 508.1,167.9 C505.3,167.7 503.2,167.9 501.1,168.5 C498.9,169.1 496.6,170.7 495.2,171.4 C493.8,172.2 492.1,173.6 492.6,173.1 Z" fill="#d6604d"/>
<path d="M453.2,168.8 C453.8,167.5 455.5,169.4 456.7,169.9 C457.8,170.4 459.0,171.5 460.2,171.7 C461.3,171.9 462.5,171.9 463.7,171.1 C464.8,170.3 465.8,167.9 467.2,167.0 C468.5,166.1 470.1,165.7 471.9,165.8 C473.6,165.9 475.9,166.8 477.7,167.6 C479.4,168.4 480.8,169.6 482.4,170.5 C483.9,171.4 485.9,172.0 487.0,172.8 C488.2,173.7 488.8,174.4 489.4,175.8 C490.0,177.1 490.1,179.2 490.5,181.0 C491.0,182.9 491.5,184.5 492.3,186.9 C493.1,189.2 494.9,192.9 495.4,195.0 C496.0,197.2 499.8,198.9 495.4,199.7 C491.1,200.5 475.8,201.3 469.5,199.7 C463.3,198.2 460.7,194.1 457.8,190.4 C455.0,186.7 453.4,181.1 452.6,177.5 C451.8,173.9 452.5,170.0 453.2,168.8 Z" fill="#2f7fc4"/>
<path d="M456.7,174.0 C457.5,171.6 462.5,172.4 464.8,172.6 C467.2,172.8 468.9,175.0 470.7,175.2 C472.4,175.4 473.9,174.6 475.4,174.0 C476.8,173.4 477.9,171.9 479.4,171.7 C481.0,171.5 483.4,171.7 484.7,172.8 C486.0,174.0 486.7,176.4 487.0,178.7 C487.3,181.0 487.1,184.8 486.5,186.9 C485.8,188.9 484.5,189.9 483.0,191.0 C481.4,192.0 479.3,192.6 477.1,193.3 C474.9,194.0 472.3,196.1 469.5,195.0 C466.7,194.0 462.3,190.4 460.2,186.9 C458.0,183.4 455.9,176.4 456.7,174.0 Z" fill="#2a5fae"/>
<path d="M478.3,194.5 C479.0,192.8 482.9,190.5 484.7,189.8 C486.6,189.1 488.0,189.4 489.4,190.1 C490.7,190.9 492.4,192.5 492.9,194.1 C493.4,195.7 494.3,198.8 492.3,199.7 C490.3,200.6 483.0,200.6 480.6,199.7 C478.3,198.8 477.6,196.1 478.3,194.5 Z" fill="#3a8fd0"/>
<path d="M491.1,175.0 C491.5,173.5 493.6,172.5 495.2,171.4 C496.9,170.4 498.9,169.3 501.1,168.8 C503.2,168.2 505.3,167.9 508.1,168.2 C510.8,168.5 514.7,169.2 517.4,170.5 C520.1,171.8 522.1,174.2 524.4,175.9 C526.7,177.6 530.3,176.8 531.4,180.8 C532.6,184.8 536.9,196.6 531.4,199.7 C526.0,202.9 504.7,201.8 498.7,199.7 C492.8,197.7 496.8,190.7 495.8,187.4 C494.8,184.2 493.7,182.5 492.9,180.4 C492.1,178.4 490.7,176.5 491.1,175.0 Z" fill="#d6604d"/>
<path d="M492.9,176.4 C493.1,174.8 494.8,173.9 496.1,172.8 C497.5,171.8 499.1,170.8 501.1,170.3 C503.0,169.7 505.4,169.3 508.1,169.6 C510.7,169.8 514.3,170.5 516.8,171.7 C519.4,172.9 521.2,175.2 523.5,176.9 C525.7,178.7 529.1,178.2 530.3,182.0 C531.4,185.8 535.2,196.8 530.3,199.7 C525.3,202.7 505.9,201.6 500.5,199.7 C495.1,197.9 498.8,191.5 497.8,188.6 C496.8,185.7 495.4,184.2 494.6,182.2 C493.8,180.1 492.6,177.9 492.9,176.4 Z" fill="#67001f"/>
</g>
<g filter="url(#hs3)">
<path d="M475.5,132.4 C475.4,132.7 475.1,133.1 474.8,133.3 C474.5,133.5 474.0,133.6 473.5,133.6 C473.1,133.7 472.5,133.6 472.1,133.4 C471.6,133.2 471.1,132.9 470.8,132.6 C470.5,132.3 470.2,131.9 470.1,131.5 C469.9,131.2 469.9,130.7 470.1,130.4 C470.2,130.1 470.5,129.7 470.8,129.5 C471.1,129.3 471.6,129.2 472.1,129.2 C472.5,129.1 473.1,129.2 473.5,129.4 C474.0,129.6 474.5,129.8 474.8,130.2 C475.1,130.5 475.4,130.9 475.5,131.3 C475.7,131.6 475.7,132.1 475.5,132.4 Z" fill="#5da5d5"/>
<path d="M522.1,136.7 C522.3,137.2 522.4,138.0 522.4,138.5 C522.3,139.1 522.2,139.7 521.9,140.1 C521.6,140.6 521.2,140.9 520.8,141.1 C520.4,141.2 519.8,141.2 519.4,141.1 C518.9,140.9 518.4,140.6 518.0,140.1 C517.6,139.7 517.2,139.1 517.0,138.5 C516.8,138.0 516.7,137.3 516.7,136.7 C516.7,136.1 516.9,135.5 517.2,135.1 C517.4,134.6 517.9,134.3 518.3,134.1 C518.7,134.0 519.2,134.0 519.7,134.1 C520.2,134.3 520.7,134.6 521.1,135.1 C521.5,135.5 521.9,136.1 522.1,136.7 Z" fill="#5da5d5"/>
<path d="M489.5,125.2 C489.5,125.5 489.3,125.9 489.0,126.3 C488.7,126.6 488.2,126.9 487.6,127.0 C487.1,127.2 486.4,127.3 485.8,127.3 C485.2,127.3 484.5,127.2 483.9,127.0 C483.4,126.9 482.9,126.6 482.6,126.3 C482.3,125.9 482.1,125.5 482.1,125.2 C482.1,124.8 482.3,124.4 482.6,124.1 C482.9,123.8 483.4,123.5 483.9,123.3 C484.5,123.2 485.2,123.1 485.8,123.1 C486.4,123.1 487.1,123.2 487.6,123.3 C488.2,123.5 488.7,123.8 489.0,124.1 C489.3,124.4 489.5,124.8 489.5,125.2 Z" fill="#f6b396"/>
<path d="M502.3,152.1 C502.3,152.7 502.1,153.3 501.9,153.7 C501.6,154.1 501.2,154.6 500.8,154.8 C500.4,155.1 499.9,155.3 499.4,155.3 C498.9,155.3 498.3,155.1 497.9,154.8 C497.5,154.6 497.1,154.1 496.8,153.7 C496.6,153.3 496.5,152.7 496.5,152.1 C496.5,151.6 496.6,151.0 496.8,150.6 C497.1,150.1 497.5,149.7 497.9,149.5 C498.3,149.2 498.9,149.0 499.4,149.0 C499.9,149.0 500.4,149.2 500.8,149.5 C501.2,149.7 501.6,150.1 501.9,150.6 C502.1,151.0 502.3,151.6 502.3,152.1 Z" fill="#7db8dc"/>
<path d="M493.2,166.7 C493.2,167.1 493.0,167.6 492.8,168.0 C492.7,168.3 492.3,168.7 492.0,168.9 C491.7,169.1 491.2,169.2 490.8,169.2 C490.4,169.2 490.0,169.1 489.7,168.9 C489.3,168.7 489.0,168.3 488.8,168.0 C488.6,167.6 488.5,167.1 488.5,166.7 C488.5,166.3 488.6,165.8 488.8,165.4 C489.0,165.1 489.3,164.7 489.7,164.5 C490.0,164.3 490.4,164.2 490.8,164.2 C491.2,164.2 491.7,164.3 492.0,164.5 C492.3,164.7 492.7,165.1 492.8,165.4 C493.0,165.8 493.2,166.3 493.2,166.7 Z" fill="#5da5d5"/>
<path d="M487.7,171.1 C488.0,170.8 489.2,171.2 490.0,172.6 C490.7,174.1 491.5,177.5 492.3,179.9 C493.1,182.2 493.7,184.3 494.6,186.9 C495.5,189.4 497.1,192.9 497.8,195.0 C498.5,197.2 499.4,198.9 499.0,199.7 C498.5,200.5 496.3,201.8 495.2,199.7 C494.1,197.6 493.1,190.4 492.2,187.1 C491.3,183.8 490.5,182.2 489.8,180.1 C489.2,178.0 488.7,176.1 488.3,174.6 C488.0,173.1 487.5,171.4 487.7,171.1 Z" fill="#fbfbfb"/>
<path d="M459.0,175.8 C460.1,175.3 462.9,174.3 464.8,174.6 C466.8,174.9 469.1,176.4 470.7,177.5 C472.2,178.7 473.1,181.6 474.2,181.6 C475.3,181.6 476.2,178.9 477.1,177.5 C478.0,176.2 478.4,173.9 479.4,173.4 C480.5,172.9 482.5,173.7 483.5,174.6 C484.6,175.5 485.6,176.8 485.9,178.7 C486.2,180.5 485.9,183.9 485.3,185.7 C484.7,187.4 483.7,188.2 482.4,189.2 C481.0,190.2 478.4,191.5 477.1,191.5 C475.8,191.5 474.4,190.3 474.8,189.2 C475.2,188.1 478.5,186.6 479.4,185.1 C480.4,183.7 480.7,181.5 480.6,180.4 C480.6,179.4 479.8,178.2 479.1,178.7 C478.4,179.2 477.3,182.1 476.5,183.4 C475.7,184.6 475.2,186.2 474.2,186.3 C473.2,186.4 472.0,185.0 470.7,183.9 C469.3,182.9 467.6,180.6 466.0,179.9 C464.5,179.1 462.6,179.7 461.3,179.3 C460.1,178.9 458.8,178.1 458.4,177.5 C458.0,176.9 457.9,176.3 459.0,175.8 Z" fill="#1c3f8c"/>
<path d="M495.0,177.5 C495.3,176.1 496.5,175.1 498.1,174.3 C499.7,173.4 502.1,172.3 504.6,172.1 C507.0,172.0 510.0,172.2 512.7,173.1 C515.5,174.0 518.2,175.7 520.9,177.5 C523.6,179.3 527.8,180.6 529.1,183.9 C530.4,187.3 532.8,194.9 528.5,197.4 C524.2,199.8 508.2,199.9 503.4,198.5 C498.6,197.2 501.1,191.8 499.9,189.2 C498.7,186.6 497.2,184.7 496.4,182.8 C495.6,180.8 494.7,178.9 495.0,177.5 Z" fill="#67001f"/>
</g>
<path d="M490.4,126.0 C490.4,126.4 490.2,126.9 489.8,127.2 C489.4,127.6 488.8,127.9 488.1,128.1 C487.4,128.4 486.6,128.5 485.8,128.5 C485.0,128.5 484.1,128.4 483.5,128.1 C482.8,127.9 482.1,127.6 481.8,127.2 C481.4,126.9 481.1,126.4 481.1,126.0 C481.1,125.5 481.4,125.1 481.8,124.7 C482.1,124.3 482.8,124.0 483.5,123.8 C484.1,123.6 485.0,123.4 485.8,123.4 C486.6,123.4 487.4,123.6 488.1,123.8 C488.8,124.0 489.4,124.3 489.8,124.7 C490.2,125.1 490.4,125.5 490.4,126.0 Z" fill="none" stroke="#111" stroke-width="0.8"/>
<path d="M476.4,132.7 C476.3,133.2 475.9,133.6 475.5,133.9 C475.0,134.2 474.4,134.4 473.8,134.4 C473.1,134.5 472.4,134.3 471.8,134.1 C471.2,133.9 470.6,133.5 470.1,133.1 C469.7,132.7 469.3,132.1 469.1,131.6 C469.0,131.1 469.0,130.5 469.2,130.1 C469.3,129.6 469.7,129.2 470.1,128.9 C470.6,128.6 471.2,128.4 471.8,128.4 C472.4,128.3 473.2,128.4 473.8,128.7 C474.4,128.9 475.0,129.3 475.5,129.7 C475.9,130.1 476.3,130.7 476.4,131.2 C476.6,131.7 476.6,132.3 476.4,132.7 Z" fill="none" stroke="#111" stroke-width="0.8"/>
<path d="M522.6,136.3 C522.9,137.1 523.0,138.0 522.9,138.7 C522.9,139.4 522.6,140.2 522.3,140.8 C521.9,141.3 521.3,141.8 520.7,142.0 C520.2,142.2 519.4,142.2 518.8,142.0 C518.2,141.8 517.5,141.4 516.9,140.9 C516.4,140.4 516.0,139.6 515.7,138.9 C515.4,138.1 515.3,137.2 515.4,136.5 C515.4,135.8 515.7,135.0 516.0,134.4 C516.4,133.9 517.0,133.4 517.6,133.2 C518.1,133.0 518.9,133.0 519.5,133.2 C520.1,133.4 520.8,133.8 521.4,134.3 C521.9,134.8 522.3,135.6 522.6,136.3 Z" fill="none" stroke="#111" stroke-width="0.8"/>
<path d="M467.9,153.9 C468.1,152.1 470.4,149.2 472.2,147.9 C474.1,146.5 477.0,145.3 479.0,145.7 C481.0,146.2 483.8,148.9 484.4,150.8 C485.1,152.6 484.5,156.0 483.1,156.8 C481.7,157.6 478.1,155.5 476.1,155.8 C474.1,156.2 472.4,159.1 471.0,158.7 C469.7,158.4 467.8,155.7 467.9,153.9 Z" fill="none" stroke="#111" stroke-width="0.8"/>
<path d="M503.4,152.1 C503.4,152.9 503.2,153.7 502.9,154.3 C502.6,154.9 502.0,155.5 501.4,155.8 C500.8,156.2 500.0,156.4 499.4,156.4 C498.7,156.4 497.9,156.2 497.3,155.8 C496.7,155.5 496.2,154.9 495.8,154.3 C495.5,153.7 495.3,152.9 495.3,152.1 C495.3,151.4 495.5,150.6 495.8,150.0 C496.2,149.4 496.7,148.8 497.3,148.5 C497.9,148.1 498.7,147.9 499.4,147.9 C500.0,147.9 500.8,148.1 501.4,148.5 C502.0,148.8 502.6,149.4 502.9,150.0 C503.2,150.6 503.4,151.4 503.4,152.1 Z" fill="none" stroke="#111" stroke-width="0.8"/>
<path d="M494.1,166.7 C494.1,167.3 494.0,167.9 493.7,168.4 C493.4,168.9 493.0,169.4 492.5,169.7 C492.0,170.0 491.4,170.2 490.8,170.2 C490.3,170.2 489.7,170.0 489.2,169.7 C488.7,169.4 488.3,168.9 488.0,168.4 C487.7,167.9 487.5,167.3 487.5,166.7 C487.5,166.1 487.7,165.5 488.0,164.9 C488.3,164.4 488.7,164.0 489.2,163.7 C489.7,163.4 490.3,163.2 490.8,163.2 C491.4,163.2 492.0,163.4 492.5,163.7 C493.0,164.0 493.4,164.4 493.7,164.9 C494.0,165.5 494.1,166.1 494.1,166.7 Z" fill="none" stroke="#111" stroke-width="0.8"/>
<path d="M453.2,168.8 C453.8,169.0 455.5,169.4 456.7,169.9 C457.8,170.4 459.0,171.5 460.2,171.7 C461.3,171.9 462.5,171.9 463.7,171.1 C464.8,170.3 465.8,167.9 467.2,167.0 C468.5,166.1 470.1,165.7 471.9,165.8 C473.6,165.9 475.9,166.8 477.7,167.6 C479.4,168.4 480.8,169.6 482.4,170.5 C483.9,171.4 485.9,172.1 487.0,172.8 C488.2,173.6 488.6,173.7 489.1,175.0 C489.7,176.2 489.8,178.1 490.3,180.1 C490.9,182.1 491.6,184.4 492.4,186.9 C493.2,189.3 494.7,193.5 495.2,194.8" fill="none" stroke="#111" stroke-width="0.8"/>
<path d="M459.0,175.8 C460.1,175.3 462.9,174.3 464.8,174.6 C466.8,174.9 469.1,176.4 470.7,177.5 C472.2,178.7 473.1,181.6 474.2,181.6 C475.3,181.6 476.2,178.9 477.1,177.5 C478.0,176.2 478.4,173.9 479.4,173.4 C480.5,172.9 482.5,173.7 483.5,174.6 C484.6,175.5 485.6,176.8 485.9,178.7 C486.2,180.5 485.9,183.9 485.3,185.7 C484.7,187.4 483.7,188.2 482.4,189.2 C481.0,190.2 478.4,191.5 477.1,191.5 C475.8,191.5 474.4,190.3 474.8,189.2 C475.2,188.1 478.5,186.6 479.4,185.1 C480.4,183.7 480.7,181.5 480.6,180.4 C480.6,179.4 479.8,178.2 479.1,178.7 C478.4,179.2 477.3,182.1 476.5,183.4 C475.7,184.6 475.2,186.2 474.2,186.3 C473.2,186.4 472.0,185.0 470.7,183.9 C469.3,182.9 467.6,180.6 466.0,179.9 C464.5,179.1 462.6,179.7 461.3,179.3 C460.1,178.9 458.8,178.1 458.4,177.5 C458.0,176.9 457.9,176.3 459.0,175.8 Z" fill="none" stroke="#111" stroke-width="0.8"/>
<path d="M489.1,171.7 C489.4,172.0 490.2,172.4 490.8,173.8 C491.3,175.1 491.7,177.7 492.4,179.9 C493.1,182.0 493.8,184.4 494.7,186.9 C495.7,189.4 497.5,193.5 498.0,194.8" fill="none" stroke="#111" stroke-width="0.8"/>
<path d="M491.2,175.2 C491.9,174.6 493.6,172.7 495.2,171.7 C496.8,170.7 498.9,169.5 501.1,169.0 C503.2,168.5 505.3,168.1 508.1,168.4 C510.8,168.7 514.7,169.5 517.4,170.7 C520.1,172.0 522.3,174.5 524.4,176.1 C526.5,177.8 529.1,179.8 530.0,180.6" fill="none" stroke="#111" stroke-width="0.8"/>
<path d="M502.0,195.0 C501.5,193.9 499.9,190.2 499.0,188.0 C498.0,185.9 496.9,183.9 496.4,182.2 C495.9,180.4 495.5,178.8 495.9,177.5 C496.3,176.3 497.3,175.3 498.7,174.6 C500.2,173.9 502.2,173.4 504.6,173.4 C506.9,173.4 510.2,173.7 512.7,174.6 C515.3,175.5 517.8,177.0 519.7,178.7 C521.7,180.3 523.6,183.6 524.4,184.5" fill="none" stroke="#111" stroke-width="0.8"/>
<path d="M508.5,193.3 C507.9,192.1 505.6,188.0 504.8,185.9 C503.9,183.9 503.3,182.4 503.4,181.0 C503.5,179.7 504.2,178.3 505.5,177.8 C506.8,177.2 509.1,177.1 511.0,177.5 C512.9,178.0 515.1,179.2 516.8,180.6 C518.6,182.0 520.8,185.0 521.6,185.9" fill="none" stroke="#111" stroke-width="0.8"/>
<path d="M492.3,170.3 C493.4,169.7 496.7,167.9 498.7,166.8 C500.8,165.6 502.2,164.5 504.6,163.5 C506.9,162.5 509.8,161.4 512.7,160.6 C515.7,159.8 520.5,159.1 522.1,158.8" fill="none" stroke="#111" stroke-width="0.8"/>
<path d="M457.7,155.6 C458.0,156.6 458.8,159.7 459.6,161.5 C460.4,163.2 462.0,165.5 462.5,166.3" fill="none" stroke="#111" stroke-width="0.8"/>
<path d="M491.6,159.7h0M499.0,159.7h0M495.3,166.1h0M487.9,166.1h0M484.2,159.7h0M487.9,153.3h0M495.3,153.3h0M505.8,164.1h0M500.5,171.5h0M491.9,174.5h0M483.1,171.8h0M477.6,164.5h0M477.5,155.3h0M482.8,147.9h0M491.4,144.9h0M500.2,147.6h0M505.7,154.9h0M513.0,161.8h0M510.0,170.9h0M503.3,177.7h0M494.3,181.0h0M484.8,180.0h0M476.7,175.1h0M471.5,167.0h0M470.3,157.6h0M473.3,148.5h0M480.0,141.7h0M489.0,138.4h0M498.5,139.4h0M506.6,144.3h0M511.8,152.4h0M519.2,165.3h0M515.6,174.4h0M509.2,181.7h0M500.6,186.4h0M490.9,187.8h0M481.4,185.9h0M473.0,180.8h0M466.9,173.1h0M463.8,163.9h0M464.1,154.1h0M467.7,145.0h0M474.1,137.7h0M482.7,133.0h0M492.4,131.6h0M501.9,133.5h0M510.3,138.6h0M516.4,146.3h0M519.5,155.5h0M525.6,161.4h0M523.5,171.8h0M518.2,181.1h0M510.3,188.2h0M500.5,192.6h0M489.9,193.7h0M479.5,191.5h0M470.3,186.2h0M463.1,178.3h0M458.8,168.6h0M457.7,158.0h0M459.8,147.6h0M465.1,138.3h0M473.0,131.2h0M482.8,126.8h0M493.4,125.7h0M503.8,127.9h0M513.0,133.2h0M520.2,141.1h0M524.5,150.8h0" stroke="#2a2a2a" stroke-width="0.95" stroke-linecap="round" fill="none"/>
</g>
<circle cx="491.65" cy="159.7" r="37.0" fill="none" stroke="#000" stroke-width="2.8"/>
<filter id="hb4" x="-20%" y="-20%" width="140%" height="140%"><feGaussianBlur stdDeviation="1.7"/></filter><filter id="hs4" x="-20%" y="-20%" width="140%" height="140%"><feGaussianBlur stdDeviation="0.9"/></filter><clipPath id="hc4"><circle cx="631.5" cy="163.0" r="37.0"/></clipPath>
<path d="M593.9,157.1 h-1.3 a1.9,1.9 0 0 0 -1.9,1.9 v11.4 a1.9,1.9 0 0 0 1.9,1.9 h1.3" fill="#9a9a9a" stroke="#000" stroke-width="2.1"/>
<path d="M669.1,157.1 h1.3 a1.9,1.9 0 0 1 1.9,1.9 v11.4 a1.9,1.9 0 0 1 -1.9,1.9 h-1.3" fill="#9a9a9a" stroke="#000" stroke-width="2.1"/>
<path d="M622.9,127.2 L631.5,120.6 L640.1,127.2" fill="#fff" stroke="#000" stroke-width="2.8" stroke-linejoin="miter"/>
<g clip-path="url(#hc4)">
<rect x="592.5" y="124.0" width="78.0" height="78.0" fill="#eef3f8"/>
<g filter="url(#hb4)">
<path d="M602.1,141.3 C603.0,139.7 604.9,138.1 606.2,137.2 C607.4,136.3 609.0,134.8 609.7,135.8 C610.4,136.8 609.7,140.9 610.3,143.0 C610.9,145.1 612.4,146.5 613.2,148.3 C614.0,150.0 614.8,152.0 614.9,153.5 C615.0,155.1 614.8,156.7 613.8,157.6 C612.7,158.5 609.9,159.1 608.5,158.8 C607.2,158.5 606.2,157.3 605.6,155.9 C605.0,154.4 605.8,151.6 605.0,150.0 C604.2,148.5 601.4,148.0 600.9,146.5 C600.4,145.1 601.2,142.8 602.1,141.3 Z" fill="#fbd5c3"/>
<path d="M622.5,139.5 C623.2,138.1 624.7,135.3 626.0,134.3 C627.4,133.2 629.2,133.0 630.7,133.1 C632.3,133.2 634.5,133.8 635.4,134.8 C636.3,135.9 636.5,138.0 636.0,139.5 C635.5,141.1 633.7,142.9 632.5,144.2 C631.2,145.5 629.7,146.7 628.4,147.1 C627.0,147.5 625.4,147.2 624.3,146.5 C623.2,145.8 622.2,144.2 621.9,143.0 C621.7,141.9 621.9,141.0 622.5,139.5 Z" fill="#c6dcee"/>
<path d="M625.5,158.5 C625.3,159.2 624.8,160.0 624.4,160.6 C624.0,161.1 623.4,161.6 622.9,161.9 C622.5,162.1 621.9,162.2 621.5,162.0 C621.1,161.9 620.7,161.5 620.5,161.0 C620.3,160.5 620.2,159.8 620.2,159.1 C620.3,158.3 620.4,157.5 620.7,156.7 C621.0,156.0 621.4,155.2 621.8,154.7 C622.3,154.1 622.8,153.6 623.3,153.4 C623.8,153.1 624.3,153.1 624.7,153.2 C625.1,153.4 625.5,153.8 625.7,154.3 C625.9,154.8 626.0,155.5 626.0,156.2 C626.0,156.9 625.8,157.8 625.5,158.5 Z" fill="#fde3d6"/>
<path d="M631.3,162.3 C625.4,161.0 631.6,156.7 632.5,154.7 C633.3,152.7 635.1,150.4 636.5,150.0 C638.0,149.6 639.8,151.8 641.2,152.4 C642.7,152.9 644.1,154.3 645.3,153.5 C646.5,152.8 647.5,149.6 648.2,147.7 C648.9,145.7 648.4,143.2 649.4,141.9 C650.4,140.5 652.5,139.4 654.1,139.5 C655.6,139.6 657.7,140.9 658.7,142.4 C659.8,144.0 659.9,147.0 660.5,148.9 C661.1,150.7 661.0,152.3 662.2,153.5 C663.5,154.8 667.1,155.0 668.1,156.5 C669.1,157.9 674.2,161.3 668.1,162.3 C661.9,163.3 637.2,163.6 631.3,162.3 Z" fill="#a9cde5"/>
<path d="M631.3,160.8 C637.3,160.2 662.9,159.1 669.2,160.8 C675.6,162.6 670.6,170.2 669.2,171.3 C667.9,172.5 663.6,168.6 661.1,167.8 C658.5,167.1 656.4,166.9 654.1,166.7 C651.7,166.5 649.0,167.0 647.1,166.7 C645.1,166.4 643.9,165.5 642.4,164.9 C640.8,164.3 639.3,163.3 637.7,163.2 C636.2,163.1 634.1,164.7 633.0,164.3 C632.0,163.9 625.3,161.4 631.3,160.8 Z" fill="#b5d4e9"/>
<path d="M592.2,168.4 C592.8,165.9 594.1,170.5 595.7,170.2 C597.2,169.9 599.6,167.5 601.5,166.7 C603.5,165.8 605.6,164.9 607.4,164.9 C609.1,164.9 610.7,165.7 612.0,166.7 C613.4,167.6 614.2,170.2 615.5,170.8 C616.9,171.3 618.6,170.8 620.2,170.2 C621.8,169.6 623.5,167.5 624.9,167.3 C626.2,167.1 628.2,167.4 628.4,169.0 C628.6,170.7 626.8,174.5 626.0,177.2 C625.3,179.9 623.9,181.2 623.7,185.4 C623.5,189.5 628.4,199.5 624.9,202.3 C621.4,205.1 608.1,205.1 602.7,202.3 C597.2,199.5 593.9,191.0 592.2,185.4 C590.4,179.7 591.6,171.0 592.2,168.4 Z" fill="#b5d4e9"/>
<path d="M603.8,184.4 C605.4,183.0 607.8,184.0 609.7,183.6 C611.5,183.2 613.7,183.0 614.9,181.9 C616.2,180.7 615.9,178.3 617.3,176.6 C618.6,174.9 621.5,173.1 623.1,171.9 C624.8,170.8 626.3,169.6 627.2,169.6 C628.1,169.6 629.0,170.7 628.6,171.9 C628.3,173.2 626.0,175.3 625.1,177.2 C624.2,179.0 623.8,180.9 623.4,183.0 C622.9,185.2 622.1,187.5 622.2,190.0 C622.2,192.6 623.4,196.2 623.7,198.2 C624.0,200.2 626.8,201.6 623.7,202.3 C620.6,203.0 608.9,203.9 605.0,202.3 C601.1,200.6 600.5,195.3 600.3,192.4 C600.1,189.4 602.3,185.9 603.8,184.4 Z" fill="#6aaed6"/>
<path d="M607.4,190.0 C609.1,188.6 611.5,187.8 613.2,187.5 C614.8,187.1 616.3,187.1 617.3,187.9 C618.3,188.8 618.8,190.2 619.0,192.6 C619.2,195.0 620.7,200.7 618.6,202.3 C616.4,203.9 608.8,203.4 606.2,202.3 C603.5,201.2 602.5,197.9 602.7,195.9 C602.9,193.8 605.6,191.4 607.4,190.0 Z" fill="#2f7fc4"/>
<path d="M640.6,170.2 C641.2,169.2 644.4,168.0 647.1,167.8 C649.7,167.7 652.7,168.3 656.4,169.2 C660.1,170.2 667.1,168.2 669.2,173.7 C671.4,179.2 674.1,197.5 669.2,202.3 C664.4,207.1 645.1,203.9 640.1,202.3 C635.0,200.6 638.5,195.6 638.9,192.4 C639.3,189.2 641.6,186.1 642.4,183.0 C643.2,179.9 643.8,175.8 643.6,173.7 C643.3,171.5 640.1,171.1 640.6,170.2 Z" fill="#fbd5c3"/>
<path d="M645.9,174.8 C646.3,173.8 650.2,171.9 651.7,171.9 C653.2,171.9 654.4,173.2 655.0,174.8 C655.6,176.5 654.8,180.1 655.5,181.9 C656.1,183.6 657.3,185.4 659.0,185.4 C660.7,185.4 664.0,181.9 665.7,181.9 C667.5,181.9 669.1,182.6 669.2,185.4 C669.4,188.1 670.6,195.4 666.9,198.2 C663.2,201.0 650.7,203.8 647.1,202.3 C643.5,200.7 645.1,191.9 645.3,188.9 C645.5,185.8 647.5,185.9 648.2,184.2 C648.9,182.4 649.8,179.9 649.4,178.4 C649.0,176.8 645.5,175.9 645.9,174.8 Z" fill="#f6b79c"/>
<path d="M630.1,174.3 C631.0,172.4 632.4,169.6 634.2,168.4 C636.1,167.3 639.4,166.7 641.2,167.3 C643.1,167.8 644.8,169.9 645.3,171.9 C645.8,174.0 644.9,177.4 644.1,179.5 C643.4,181.7 642.0,183.5 640.6,184.8 C639.3,186.0 637.5,187.1 636.0,187.1 C634.4,187.1 632.5,186.0 631.3,184.8 C630.1,183.5 629.2,181.3 629.0,179.5 C628.8,177.8 629.2,176.1 630.1,174.3 Z" fill="#f4a582"/>
<path d="M626.0,184.2 C626.3,183.9 628.2,184.7 629.5,185.4 C630.9,186.0 632.8,187.1 634.2,188.3 C635.6,189.4 636.9,190.0 637.7,192.4 C638.5,194.7 640.1,200.6 639.1,202.3 C638.1,203.9 633.2,204.1 631.9,202.3 C630.6,200.4 631.9,193.7 631.3,191.2 C630.7,188.7 629.0,188.3 628.1,187.1 C627.3,185.9 625.8,184.5 626.0,184.2 Z" fill="#fafafa"/>
<path d="M634.4,169.9 C636.1,168.2 639.4,168.0 641.0,168.5 C642.6,169.0 643.9,170.7 643.9,172.9 C643.9,175.1 642.1,179.6 641.0,181.6 C639.9,183.7 638.8,184.9 637.4,185.3 C635.9,185.6 633.4,184.9 632.3,183.8 C631.2,182.7 630.4,181.0 630.8,178.7 C631.2,176.4 632.7,171.6 634.4,169.9 Z" fill="#e86a4f"/>
</g>
<g filter="url(#hs4)">
<path d="M611.2,152.9 C611.2,153.1 611.1,153.4 611.0,153.5 C611.0,153.7 610.8,153.9 610.6,154.0 C610.5,154.1 610.2,154.1 610.0,154.1 C609.8,154.1 609.6,154.1 609.5,154.0 C609.3,153.9 609.1,153.7 609.0,153.5 C608.9,153.4 608.9,153.1 608.9,152.9 C608.9,152.8 608.9,152.5 609.0,152.4 C609.1,152.2 609.3,152.0 609.5,151.9 C609.6,151.8 609.8,151.8 610.0,151.8 C610.2,151.8 610.5,151.8 610.6,151.9 C610.8,152.0 611.0,152.2 611.0,152.4 C611.1,152.5 611.2,152.8 611.2,152.9 Z" fill="#f4a582"/>
<path d="M653.9,151.8 C653.9,152.2 653.9,152.6 653.8,152.9 C653.6,153.3 653.5,153.6 653.2,153.8 C653.0,154.0 652.8,154.1 652.5,154.1 C652.3,154.1 652.0,154.0 651.8,153.8 C651.6,153.6 651.5,153.3 651.3,152.9 C651.2,152.6 651.1,152.2 651.1,151.8 C651.1,151.4 651.2,151.0 651.3,150.6 C651.5,150.3 651.6,150.0 651.8,149.8 C652.0,149.6 652.3,149.4 652.5,149.4 C652.8,149.4 653.0,149.6 653.2,149.8 C653.5,150.0 653.6,150.3 653.8,150.6 C653.9,151.0 653.9,151.4 653.9,151.8 Z" fill="#5a9fd0"/>
<path d="M634.8,171.3 C636.2,170.0 638.8,169.8 640.1,170.2 C641.3,170.6 642.4,171.9 642.4,173.7 C642.4,175.4 640.9,179.0 640.1,180.7 C639.2,182.3 638.3,183.3 637.1,183.6 C636.0,183.9 633.9,183.3 633.0,182.4 C632.2,181.6 631.6,180.2 631.9,178.4 C632.2,176.5 633.4,172.7 634.8,171.3 Z" fill="#dc533c"/>
<path d="M620.3,181.0 C620.3,181.2 620.3,181.4 620.2,181.5 C620.1,181.6 620.0,181.8 619.8,181.8 C619.7,181.9 619.5,182.0 619.4,182.0 C619.2,182.0 619.0,181.9 618.9,181.8 C618.8,181.8 618.6,181.6 618.6,181.5 C618.5,181.4 618.4,181.2 618.4,181.0 C618.4,180.9 618.5,180.7 618.6,180.6 C618.6,180.4 618.8,180.3 618.9,180.2 C619.0,180.1 619.2,180.1 619.4,180.1 C619.5,180.1 619.7,180.1 619.8,180.2 C620.0,180.3 620.1,180.4 620.2,180.6 C620.3,180.7 620.3,180.9 620.3,181.0 Z" fill="#3a8fd0"/>
</g>
<path d="M608.5,134.6 C608.7,134.8 609.4,134.4 609.7,135.8 C610.0,137.2 609.7,140.9 610.3,143.0 C610.9,145.1 612.4,146.5 613.2,148.3 C614.0,150.0 614.8,152.0 614.9,153.5 C615.0,155.1 614.8,156.7 613.8,157.6 C612.7,158.5 609.9,159.1 608.5,158.8 C607.2,158.5 606.2,157.3 605.6,155.9 C605.0,154.4 605.8,151.6 605.0,150.0 C604.2,148.5 601.6,147.1 600.9,146.5" fill="none" stroke="#111" stroke-width="0.8"/>
<path d="M611.2,152.9 C611.2,153.2 611.1,153.4 611.0,153.6 C611.0,153.8 610.8,154.0 610.6,154.1 C610.5,154.2 610.2,154.2 610.0,154.2 C609.8,154.2 609.6,154.2 609.5,154.1 C609.3,154.0 609.1,153.8 609.0,153.6 C608.9,153.4 608.9,153.2 608.9,152.9 C608.9,152.7 608.9,152.5 609.0,152.3 C609.1,152.1 609.3,151.9 609.5,151.8 C609.6,151.7 609.8,151.7 610.0,151.7 C610.2,151.7 610.5,151.7 610.6,151.8 C610.8,151.9 611.0,152.1 611.0,152.3 C611.1,152.5 611.2,152.7 611.2,152.9 Z" fill="none" stroke="#111" stroke-width="0.8"/>
<path d="M622.5,139.5 C623.2,138.1 624.7,135.3 626.0,134.3 C627.4,133.2 629.2,133.0 630.7,133.1 C632.3,133.2 634.5,133.8 635.4,134.8 C636.3,135.9 636.5,138.0 636.0,139.5 C635.5,141.1 633.7,142.9 632.5,144.2 C631.2,145.5 629.7,146.7 628.4,147.1 C627.0,147.5 625.4,147.2 624.3,146.5 C623.2,145.8 622.2,144.2 621.9,143.0 C621.7,141.9 621.9,141.0 622.5,139.5 Z" fill="none" stroke="#111" stroke-width="0.8"/>
<path d="M625.5,158.5 C625.3,159.2 624.8,160.0 624.4,160.6 C624.0,161.1 623.4,161.6 622.9,161.9 C622.5,162.1 621.9,162.2 621.5,162.0 C621.1,161.9 620.7,161.5 620.5,161.0 C620.3,160.5 620.2,159.8 620.2,159.1 C620.3,158.3 620.4,157.5 620.7,156.7 C621.0,156.0 621.4,155.2 621.8,154.7 C622.3,154.1 622.8,153.6 623.3,153.4 C623.8,153.1 624.3,153.1 624.7,153.2 C625.1,153.4 625.5,153.8 625.7,154.3 C625.9,154.8 626.0,155.5 626.0,156.2 C626.0,156.9 625.8,157.8 625.5,158.5 Z" fill="none" stroke="#111" stroke-width="0.8"/>
<path d="M631.3,162.3 C631.5,161.0 631.6,156.7 632.5,154.7 C633.3,152.7 635.1,150.4 636.5,150.0 C638.0,149.6 639.8,151.8 641.2,152.4 C642.7,152.9 644.1,154.3 645.3,153.5 C646.5,152.8 647.5,149.6 648.2,147.7 C648.9,145.7 648.4,143.2 649.4,141.9 C650.4,140.5 652.5,139.4 654.1,139.5 C655.6,139.6 657.7,140.9 658.7,142.4 C659.8,144.0 659.9,147.0 660.5,148.9 C661.1,150.7 661.0,152.3 662.2,153.5 C663.5,154.8 667.1,156.0 668.1,156.5" fill="none" stroke="#111" stroke-width="0.8"/>
<path d="M653.9,151.8 C653.9,152.2 653.9,152.6 653.8,152.9 C653.6,153.3 653.5,153.6 653.2,153.8 C653.0,154.0 652.8,154.1 652.5,154.1 C652.3,154.1 652.0,154.0 651.8,153.8 C651.6,153.6 651.5,153.3 651.3,152.9 C651.2,152.6 651.1,152.2 651.1,151.8 C651.1,151.4 651.2,151.0 651.3,150.6 C651.5,150.3 651.6,150.0 651.8,149.8 C652.0,149.6 652.3,149.4 652.5,149.4 C652.8,149.4 653.0,149.6 653.2,149.8 C653.5,150.0 653.6,150.3 653.8,150.6 C653.9,151.0 653.9,151.4 653.9,151.8 Z" fill="none" stroke="#111" stroke-width="0.8"/>
<path d="M648.2,162.3 C649.0,161.8 651.0,159.9 652.9,159.6 C654.8,159.4 658.7,160.6 659.9,160.8" fill="none" stroke="#111" stroke-width="0.8"/>
<path d="M592.2,168.8 C592.8,169.0 594.1,170.5 595.7,170.2 C597.2,169.8 599.6,167.5 601.5,166.7 C603.5,165.8 605.6,164.9 607.4,164.9 C609.1,164.9 610.7,165.7 612.0,166.7 C613.4,167.6 614.2,170.2 615.5,170.8 C616.9,171.3 618.6,170.8 620.2,170.2 C621.8,169.6 623.2,168.2 624.9,167.3 C626.6,166.3 629.5,165.0 630.5,164.6" fill="none" stroke="#111" stroke-width="0.8"/>
<path d="M603.8,184.4 C604.8,184.3 607.8,184.0 609.7,183.6 C611.5,183.2 613.7,183.0 614.9,181.9 C616.2,180.7 615.9,178.3 617.3,176.6 C618.6,174.9 621.5,173.1 623.1,171.9 C624.8,170.8 626.3,169.6 627.2,169.6 C628.1,169.6 629.0,170.7 628.6,171.9 C628.3,173.2 626.0,175.3 625.1,177.2 C624.2,179.0 623.8,180.9 623.4,183.0 C622.9,185.2 622.1,187.5 622.2,190.0 C622.2,192.6 623.4,196.8 623.7,198.2" fill="none" stroke="#111" stroke-width="0.8"/>
<path d="M607.4,189.8 C608.3,189.4 611.5,187.5 613.2,187.2 C614.8,186.9 616.3,187.0 617.3,187.9 C618.3,188.8 618.8,190.8 619.0,192.6 C619.2,194.4 618.6,197.5 618.6,198.4" fill="none" stroke="#111" stroke-width="0.8"/>
<path d="M620.3,181.0 C620.3,181.2 620.3,181.4 620.2,181.6 C620.1,181.7 620.0,181.9 619.8,181.9 C619.7,182.0 619.5,182.1 619.4,182.1 C619.2,182.1 619.0,182.0 618.9,181.9 C618.8,181.9 618.6,181.7 618.6,181.6 C618.5,181.4 618.4,181.2 618.4,181.0 C618.4,180.9 618.5,180.7 618.6,180.5 C618.6,180.4 618.8,180.2 618.9,180.1 C619.0,180.0 619.2,180.0 619.4,180.0 C619.5,180.0 619.7,180.0 619.8,180.1 C620.0,180.2 620.1,180.4 620.2,180.5 C620.3,180.7 620.3,180.9 620.3,181.0 Z" fill="none" stroke="#111" stroke-width="0.8"/>
<path d="M634.8,171.3 C636.2,170.0 638.8,169.8 640.1,170.2 C641.3,170.6 642.4,171.9 642.4,173.7 C642.4,175.4 640.9,179.0 640.1,180.7 C639.2,182.3 638.3,183.3 637.1,183.6 C636.0,183.9 633.9,183.3 633.0,182.4 C632.2,181.6 631.6,180.2 631.9,178.4 C632.2,176.5 633.4,172.7 634.8,171.3 Z" fill="none" stroke="#111" stroke-width="0.8"/>
<path d="M634.6,170.1 C636.3,168.4 639.5,168.2 641.0,168.7 C642.6,169.2 643.9,170.8 643.9,173.0 C643.9,175.1 642.1,179.5 641.0,181.5 C640.0,183.5 638.9,184.7 637.5,185.1 C636.1,185.4 633.6,184.7 632.5,183.6 C631.4,182.6 630.7,180.9 631.1,178.7 C631.4,176.4 633.0,171.8 634.6,170.1 Z" fill="none" stroke="#111" stroke-width="0.8"/>
<path d="M634.6,169.0 C636.6,167.1 640.3,166.8 642.1,167.3 C643.9,167.9 645.4,169.8 645.4,172.3 C645.4,174.8 643.3,179.9 642.1,182.3 C640.9,184.6 639.6,186.0 637.9,186.4 C636.3,186.8 633.4,186.0 632.1,184.7 C630.9,183.5 630.1,181.6 630.5,178.9 C630.9,176.3 632.7,170.9 634.6,169.0 Z" fill="none" stroke="#111" stroke-width="0.8"/>
<path d="M634.4,189.4 C634.1,188.9 632.8,187.4 632.1,185.9 C631.4,184.5 630.6,182.7 630.5,180.7 C630.3,178.6 630.6,175.8 631.3,173.7 C632.0,171.5 632.9,169.2 634.4,167.8 C636.0,166.5 638.7,165.5 640.6,165.5 C642.5,165.5 644.6,166.5 645.9,167.8 C647.2,169.2 647.8,172.7 648.2,173.7" fill="none" stroke="#111" stroke-width="0.8"/>
<path d="M642.4,166.7 C643.2,166.4 645.5,164.9 647.1,165.3 C648.6,165.7 650.5,167.4 651.7,169.0 C653.0,170.6 654.1,172.7 654.6,174.8 C655.2,177.0 654.6,180.1 655.2,181.9 C655.9,183.6 657.4,185.4 658.7,185.4 C660.1,185.4 661.9,183.5 663.4,181.9 C664.9,180.3 667.1,176.8 667.8,175.8" fill="none" stroke="#111" stroke-width="0.8"/>
<path d="M629.5,185.9 C630.3,186.4 632.8,187.6 634.2,188.6 C635.6,189.7 636.9,190.5 637.7,192.1 C638.5,193.8 638.9,197.4 639.1,198.4" fill="none" stroke="#111" stroke-width="0.8"/>
<path d="M625.6,182.4 C626.0,183.3 627.1,186.0 628.1,187.5 C629.2,189.0 631.1,189.6 631.9,191.4 C632.6,193.3 632.5,197.3 632.6,198.4" fill="none" stroke="#111" stroke-width="0.8"/>
<path d="M645.9,198.4 C645.8,196.9 644.9,191.5 645.3,189.4 C645.7,187.4 647.9,186.5 648.5,185.9" fill="none" stroke="#111" stroke-width="0.8"/>
<path d="M654.1,197.3 C654.5,196.1 655.2,191.9 656.4,190.3 C657.6,188.6 659.5,187.4 661.1,187.2 C662.7,187.0 665.2,188.8 666.0,189.1" fill="none" stroke="#111" stroke-width="0.8"/>
<path d="M631.5,163.0h0M638.9,163.0h0M635.2,169.4h0M627.8,169.4h0M624.1,163.0h0M627.8,156.6h0M635.2,156.6h0M645.6,167.4h0M640.4,174.8h0M631.7,177.8h0M623.0,175.1h0M617.5,167.8h0M617.4,158.6h0M622.6,151.2h0M631.3,148.2h0M640.0,150.9h0M645.5,158.2h0M652.9,165.1h0M649.8,174.2h0M643.1,181.0h0M634.2,184.3h0M624.7,183.3h0M616.5,178.4h0M611.3,170.3h0M610.1,160.9h0M613.2,151.8h0M619.9,145.0h0M628.8,141.7h0M638.3,142.7h0M646.5,147.6h0M651.7,155.7h0M659.1,168.6h0M655.5,177.7h0M649.0,185.0h0M640.4,189.7h0M630.8,191.1h0M621.2,189.2h0M612.9,184.1h0M606.8,176.4h0M603.7,167.2h0M603.9,157.4h0M607.5,148.3h0M614.0,141.0h0M622.6,136.3h0M632.2,134.9h0M641.8,136.8h0M650.1,141.9h0M656.2,149.6h0M659.3,158.8h0M665.5,164.7h0M663.3,175.1h0M658.0,184.4h0M650.1,191.5h0M640.4,195.9h0M629.8,197.0h0M619.4,194.8h0M610.1,189.5h0M603.0,181.6h0M598.6,171.9h0M597.5,161.3h0M599.7,150.9h0M605.0,141.6h0M612.9,134.5h0M622.6,130.1h0M633.2,129.0h0M643.6,131.2h0M652.9,136.5h0M660.0,144.4h0M664.4,154.1h0" stroke="#2a2a2a" stroke-width="0.95" stroke-linecap="round" fill="none"/>
</g>
<circle cx="631.5" cy="163.0" r="37.0" fill="none" stroke="#000" stroke-width="2.8"/>
<text x="403.3" y="27.1" font-weight="bold" font-style="italic" font-size="29" fill="#1a1a1a">B.</text>
<text x="493.5" y="10.4" font-size="13.6" font-style="italic" fill="#1a1a1a" text-anchor="middle">Delay 1</text>
<text x="493.7" y="25" font-size="13.9" font-style="italic" fill="#1a1a1a" text-anchor="middle">500-1500ms</text>
<text x="631" y="10.4" font-size="13.6" font-style="italic" fill="#1a1a1a" text-anchor="middle">Delay 2</text>
<text x="631.8" y="25" font-size="13.9" font-style="italic" fill="#1a1a1a" text-anchor="middle">3000-4000ms</text>
<text x="561" y="58.3" font-size="15.7" font-style="italic" fill="#1a1a1a" text-anchor="middle">No TMS</text>
<text x="562.2" y="147.3" font-size="15.6" font-style="italic" fill="#1a1a1a" text-anchor="middle">V1 TMS</text>
<rect x="533.6" y="70" width="37" height="3.8" fill="#000"/>
<path d="M569,63.3 L584.4,71.9 L569,80.5 Z" fill="#000"/>
<rect x="534.4" y="158.4" width="38" height="3.8" fill="#000"/>
<path d="M570.8,152 L586,160.3 L570.8,168.6 Z" fill="#000"/>
<circle cx="538.8" cy="111.1" r="14.6" fill="#c9c9c9" stroke="#444" stroke-width="0.8"/>
<circle cx="538.8" cy="111" r="1.1" fill="#000"/>
<circle cx="547.8" cy="117.5" r="1.9" fill="#3a4fb8"/>
<circle cx="578.3" cy="111.1" r="14.6" fill="#c9c9c9" stroke="#444" stroke-width="0.8"/>
<circle cx="578.3" cy="111" r="1.1" fill="#000"/>
<circle cx="569.5" cy="117.5" r="1.9" fill="#3a4fb8"/>
<text x="557.8" y="115" text-anchor="middle" font-size="12" fill="#111">&gt;</text>
<polygon points="548.14,150.69 551.82,158.40 549.36,159.19 554.62,161.38 552.17,162.34 555.15,170.31 550.50,163.83 553.04,162.96 547.61,160.59 550.24,159.63" fill="#f4e52f" stroke="#4d4700" stroke-width="0.45" stroke-linejoin="round"/>
<polygon points="552.78,153.76 556.46,161.47 554.01,162.25 559.26,164.44 556.81,165.41 559.79,173.38 555.15,166.90 557.69,166.02 552.25,163.66 554.88,162.69" fill="#f4e52f" stroke="#4d4700" stroke-width="0.45" stroke-linejoin="round"/>
<polygon points="557.60,157.09 561.28,164.80 558.82,165.58 564.08,167.77 561.63,168.74 564.60,176.71 559.96,170.23 562.50,169.35 557.07,166.98 559.70,166.02" fill="#f4e52f" stroke="#4d4700" stroke-width="0.45" stroke-linejoin="round"/>
<defs><linearGradient id="cbB" x1="0" y1="0" x2="1" y2="0">
 <stop offset="0" stop-color="#1d4a97"/><stop offset="0.12" stop-color="#2e74b6"/><stop offset="0.3" stop-color="#8dc0dd"/>
 <stop offset="0.5" stop-color="#f7f5f4"/><stop offset="0.7" stop-color="#f2a683"/><stop offset="0.88" stop-color="#bd2a33"/><stop offset="1" stop-color="#67001f"/>
</linearGradient></defs>
<rect x="534.7" y="197.7" width="50.6" height="6.9" fill="url(#cbB)"/>
<text x="533.6" y="204.2" text-anchor="end" font-style="italic" font-size="10.6" fill="#1a1a1a">-.05</text>
<text x="586.6" y="204.2" font-style="italic" font-size="10.6" fill="#1a1a1a">.05</text>
<text x="513.2" y="224" font-size="13.4" fill="#1a1a1a">α<tspan font-style="italic" font-size="9.6" dx="-0.2">LI</tspan><tspan font-size="9" dx="2.4" dy="-0.4">=</tspan></text>
<text x="562.3" y="215.8" text-anchor="middle" font-size="9.7" fill="#1a1a1a">(P<tspan font-size="5.8" dy="2.2">contra</tspan><tspan dy="-2.2">-P</tspan><tspan font-size="5.8" dy="2.2">ipsi</tspan><tspan dy="-2.2">)</tspan></text>
<line x1="539.4" y1="220.4" x2="586.2" y2="220.4" stroke="#111" stroke-width="1.3"/>
<text x="562.3" y="230.6" text-anchor="middle" font-size="9.7" fill="#1a1a1a">(P<tspan font-size="5.8" dy="2.2">contra</tspan><tspan dy="-2.2">+P</tspan><tspan font-size="5.8" dy="2.2">ipsi</tspan><tspan dy="-2.2">)</tspan></text>
<polygon points="446.0,205.0 454.1,212.7 444.6,226.0 436.5,226.0 440.1,216.9 441.5,210.6" fill="#2c2c2c"/>
<g fill="#3a3a3a">
<ellipse cx="450.5" cy="191.6" rx="11.6" ry="11.0"/>
<polygon points="445.2,182.0 450.5,180.6 450.5,202.6 445.2,204.0"/>
<ellipse cx="465.5" cy="203.0" rx="10.4" ry="11.2"/>
<polygon points="460.2,193.2 465.5,191.8 465.5,214.2 460.2,215.6"/>
<polygon points="453.5,182.6 466.5,193.8 462.5,212.2 449.5,200.6"/>
</g>
<clipPath id="coilc"><ellipse cx="445.2" cy="193.0" rx="11.6" ry="11.0"/><ellipse cx="460.2" cy="204.4" rx="10.4" ry="11.2"/><polygon points="448.2,184.0 461.2,195.2 457.2,213.6 444.2,202.0"/></clipPath>
<g clip-path="url(#coilc)">
<rect x="430" y="178" width="50" height="42" fill="#101010"/>
<line x1="430" y1="178.0" x2="480" y2="183.0" stroke="#8a8a8a" stroke-width="0.4"/>
<line x1="430" y1="179.9" x2="480" y2="184.9" stroke="#8a8a8a" stroke-width="0.4"/>
<line x1="430" y1="181.8" x2="480" y2="186.8" stroke="#8a8a8a" stroke-width="0.4"/>
<line x1="430" y1="183.7" x2="480" y2="188.7" stroke="#8a8a8a" stroke-width="0.4"/>
<line x1="430" y1="185.6" x2="480" y2="190.6" stroke="#8a8a8a" stroke-width="0.4"/>
<line x1="430" y1="187.5" x2="480" y2="192.5" stroke="#8a8a8a" stroke-width="0.4"/>
<line x1="430" y1="189.4" x2="480" y2="194.4" stroke="#8a8a8a" stroke-width="0.4"/>
<line x1="430" y1="191.3" x2="480" y2="196.3" stroke="#8a8a8a" stroke-width="0.4"/>
<line x1="430" y1="193.2" x2="480" y2="198.2" stroke="#8a8a8a" stroke-width="0.4"/>
<line x1="430" y1="195.1" x2="480" y2="200.1" stroke="#8a8a8a" stroke-width="0.4"/>
<line x1="430" y1="197.0" x2="480" y2="202.0" stroke="#8a8a8a" stroke-width="0.4"/>
<line x1="430" y1="198.9" x2="480" y2="203.9" stroke="#8a8a8a" stroke-width="0.4"/>
<line x1="430" y1="200.8" x2="480" y2="205.8" stroke="#8a8a8a" stroke-width="0.4"/>
<line x1="430" y1="202.7" x2="480" y2="207.7" stroke="#8a8a8a" stroke-width="0.4"/>
<line x1="430" y1="204.6" x2="480" y2="209.6" stroke="#8a8a8a" stroke-width="0.4"/>
<line x1="430" y1="206.5" x2="480" y2="211.5" stroke="#8a8a8a" stroke-width="0.4"/>
<line x1="430" y1="208.4" x2="480" y2="213.4" stroke="#8a8a8a" stroke-width="0.4"/>
<line x1="430" y1="210.3" x2="480" y2="215.3" stroke="#8a8a8a" stroke-width="0.4"/>
<line x1="430" y1="212.2" x2="480" y2="217.2" stroke="#8a8a8a" stroke-width="0.4"/>
<line x1="430" y1="214.1" x2="480" y2="219.1" stroke="#8a8a8a" stroke-width="0.4"/>
<line x1="430" y1="216.0" x2="480" y2="221.0" stroke="#8a8a8a" stroke-width="0.4"/>
<line x1="430" y1="217.9" x2="480" y2="222.9" stroke="#8a8a8a" stroke-width="0.4"/>
</g>
<circle cx="443.7" cy="193.0" r="2.6" fill="none" stroke="#c0c0c0" stroke-width="0.5"/>
<circle cx="459.7" cy="204.9" r="2.4" fill="none" stroke="#c0c0c0" stroke-width="0.5"/>
<path d="M451.5,194.2 L453.3,202.7 M449.2,195.1 L454.2,194.5" stroke="#c8c8c8" stroke-width="0.5" fill="none"/>
<defs>
<linearGradient id="hmBase" x1="0" y1="0" x2="0" y2="1">
 <stop offset="0" stop-color="#f6bea6"/>
 <stop offset="0.143" stop-color="#f5b399"/>
 <stop offset="0.286" stop-color="#f4b095"/>
 <stop offset="0.371" stop-color="#f7c0a9"/>
 <stop offset="0.429" stop-color="#f9d0bf"/>
 <stop offset="0.514" stop-color="#fbe0d4"/>
 <stop offset="0.571" stop-color="#faeee9"/>
 <stop offset="0.61" stop-color="#f4f5f6"/>
 <stop offset="0.645" stop-color="#dce9f2"/>
 <stop offset="0.70" stop-color="#a9cee5"/>
 <stop offset="0.743" stop-color="#97c5e1"/>
 <stop offset="0.857" stop-color="#82b9db"/>
 <stop offset="0.943" stop-color="#a3cbe4"/>
 <stop offset="1" stop-color="#bbd8ea"/>
</linearGradient>
<linearGradient id="fadeTop" x1="0" y1="0" x2="0" y2="1">
 <stop offset="0" stop-color="#fff"/>
 <stop offset="0.35" stop-color="#fff"/>
 <stop offset="0.56" stop-color="#000"/>
 <stop offset="1" stop-color="#000"/>
</linearGradient>
<mask id="mTop" maskUnits="userSpaceOnUse" x="455" y="253" width="185" height="161"><rect x="455" y="253.4" width="184.5" height="159.8" fill="url(#fadeTop)"/></mask>
<linearGradient id="cbar" x1="0" y1="0" x2="0" y2="1">
 <stop offset="0" stop-color="#67001f"/>
 <stop offset="0.1" stop-color="#b2182b"/>
 <stop offset="0.2" stop-color="#d6604d"/>
 <stop offset="0.3" stop-color="#f4a582"/>
 <stop offset="0.4" stop-color="#fddbc7"/>
 <stop offset="0.5" stop-color="#f7f7f7"/>
 <stop offset="0.6" stop-color="#d1e5f0"/>
 <stop offset="0.7" stop-color="#92c5de"/>
 <stop offset="0.8" stop-color="#4393c3"/>
 <stop offset="0.9" stop-color="#2166ac"/>
 <stop offset="1" stop-color="#1b458f"/>
</linearGradient>
<filter id="blur5" x="-50%" y="-50%" width="200%" height="200%"><feGaussianBlur stdDeviation="5"/></filter>
<filter id="blur3" x="-50%" y="-50%" width="200%" height="200%"><feGaussianBlur stdDeviation="3"/></filter>
<filter id="blur15" x="-50%" y="-50%" width="200%" height="200%"><feGaussianBlur stdDeviation="1.6"/></filter>
<filter id="blur8" x="-50%" y="-50%" width="200%" height="200%"><feGaussianBlur stdDeviation="8"/></filter>
<filter id="streak" x="0" y="0" width="100%" height="100%">
 <feTurbulence type="fractalNoise" baseFrequency="0.17 0.014" numOctaves="2" seed="7" result="n"/>
 <feColorMatrix in="n" type="matrix" values="0 0 0 0 1  0 0 0 0 1  0 0 0 0 1  2.6 0 0 0 -1.0"/>
</filter>
<filter id="streakD" x="0" y="0" width="100%" height="100%">
 <feTurbulence type="fractalNoise" baseFrequency="0.13 0.011" numOctaves="2" seed="23" result="n"/>
 <feColorMatrix in="n" type="matrix" values="0 0 0 0 0.90  0 0 0 0 0.40  0 0 0 0 0.25  2.6 0 0 0 -1.0"/>
</filter>
<clipPath id="hmClip"><rect x="455.0" y="253.4" width="184.5" height="159.8"/></clipPath>
</defs>
<g clip-path="url(#hmClip)">
<rect x="455.0" y="253.4" width="184.5" height="159.8" fill="url(#hmBase)"/>
<path d="M574,300 L584,306 L596,322 L614,340 L640,352 L640,360 L574,360 Z" fill="#f8f1ee" filter="url(#blur5)" opacity="0.97"/>
<path d="M574,318 L588,326 L604,342 L640,356 L640,362 L574,362 Z" fill="#f6f4f4" filter="url(#blur3)" opacity="0.9"/>
<ellipse cx="628.8" cy="328.7" rx="18" ry="9" fill="#f8cdb9" filter="url(#blur5)" opacity="0.7"/>
<ellipse cx="475.4" cy="385.8" rx="5" ry="30" fill="#eef3f7" filter="url(#blur5)" opacity="0.85"/>
<ellipse cx="473.4" cy="408.6" rx="7" ry="5" fill="#fbeee8" filter="url(#blur3)" opacity="0.9"/>
<ellipse cx="459.9" cy="383.5" rx="7" ry="16" fill="#3f8fc4" filter="url(#blur5)" opacity="0.8"/>
<ellipse cx="495.9" cy="385.8" rx="10" ry="20" fill="#4a97c9" filter="url(#blur5)" opacity="0.75"/>
<ellipse cx="524.5" cy="388.1" rx="12" ry="14" fill="#3585be" filter="url(#blur5)" opacity="0.8"/>
<ellipse cx="542.9" cy="385.8" rx="6" ry="16" fill="#3e8cc2" filter="url(#blur5)" opacity="0.7"/>
<ellipse cx="510.2" cy="367.5" rx="9" ry="8" fill="#5aa2cf" filter="url(#blur5)" opacity="0.6"/>
<ellipse cx="596.1" cy="388.1" rx="28" ry="12" fill="#2f7fbb" filter="url(#blur5)" opacity="0.9"/>
<ellipse cx="590.0" cy="372.1" rx="12" ry="12" fill="#62a8d3" filter="url(#blur5)" opacity="0.8"/>
<ellipse cx="622.7" cy="381.2" rx="14" ry="12" fill="#5fa5d1" filter="url(#blur5)" opacity="0.6"/>
<ellipse cx="614.5" cy="410.5" rx="30" ry="5" fill="#d3e4f0" filter="url(#blur3)" opacity="0.8"/>
<ellipse cx="467.3" cy="294.5" rx="8" ry="22" fill="#ef9f80" filter="url(#blur5)" opacity="0.7"/>
<ellipse cx="495.9" cy="285.4" rx="7" ry="18" fill="#f0a284" filter="url(#blur5)" opacity="0.55"/>
<ellipse cx="526.6" cy="289.9" rx="6" ry="20" fill="#ef9c7d" filter="url(#blur5)" opacity="0.6"/>
<ellipse cx="545.0" cy="294.5" rx="6" ry="20" fill="#f0a082" filter="url(#blur5)" opacity="0.6"/>
<ellipse cx="590.0" cy="285.4" rx="8" ry="18" fill="#f0a183" filter="url(#blur5)" opacity="0.55"/>
<ellipse cx="608.4" cy="294.5" rx="7" ry="22" fill="#ef9e7f" filter="url(#blur5)" opacity="0.55"/>
<ellipse cx="630.9" cy="285.4" rx="7" ry="20" fill="#f0a486" filter="url(#blur5)" opacity="0.5"/>
<rect x="455.0" y="253.4" width="184.5" height="93.6" filter="url(#streak)" opacity="0.36"/>
<rect x="455.0" y="347.0" width="184.5" height="66.2" filter="url(#streak)" opacity="0.24"/>
<g mask="url(#mTop)"><rect x="455.0" y="253.4" width="184.5" height="159.8" filter="url(#streakD)" opacity="0.55"/></g>
<ellipse cx="594.9" cy="391.3" rx="17" ry="8" fill="#2a6fb4" filter="url(#blur5)" opacity="0.95"/>
<ellipse cx="590.8" cy="391.3" rx="11" ry="5.5" fill="#1d4b99" filter="url(#blur3)" opacity="1"/>
<ellipse cx="586.7" cy="390.4" rx="7" ry="3.8" fill="#1a3578" filter="url(#blur3)" opacity="1"/>
<path d="M577.8,383.2 L580.6,381 L585.6,377.5 L589.3,382.1 L594.7,385.3 L601.1,386.4 L600,394 L595.7,396.1 L591.4,395 L588.2,394 L581.7,397.2 L578.5,395 L576.3,389.7 Z" fill="#1d3c84" filter="url(#blur15)"/>
<path d="M552.6,253.4 L552.6,300 L551.4,310 L550.8,330 L550.6,386 Q550.4,399 543.2,413.2 L582,413.2 Q574.8,400 574.6,388 L574.4,330 L573.6,310 L572.6,300 L572.5,253.4 Z" fill="#67041f"/>
<line x1="475.4" y1="253.4" x2="475.4" y2="413.2" stroke="#fff" stroke-opacity="0.10" stroke-width="0.8"/>
<line x1="495.9" y1="253.4" x2="495.9" y2="413.2" stroke="#fff" stroke-opacity="0.10" stroke-width="0.8"/>
<line x1="516.4" y1="253.4" x2="516.4" y2="413.2" stroke="#fff" stroke-opacity="0.10" stroke-width="0.8"/>
<line x1="536.8" y1="253.4" x2="536.8" y2="413.2" stroke="#fff" stroke-opacity="0.10" stroke-width="0.8"/>
<line x1="557.2" y1="253.4" x2="557.2" y2="413.2" stroke="#fff" stroke-opacity="0.10" stroke-width="0.8"/>
<line x1="577.7" y1="253.4" x2="577.7" y2="413.2" stroke="#fff" stroke-opacity="0.10" stroke-width="0.8"/>
<line x1="598.1" y1="253.4" x2="598.1" y2="413.2" stroke="#fff" stroke-opacity="0.10" stroke-width="0.8"/>
<line x1="618.6" y1="253.4" x2="618.6" y2="413.2" stroke="#fff" stroke-opacity="0.10" stroke-width="0.8"/>
<line x1="455.0" y1="390.4" x2="639.5" y2="390.4" stroke="#fff" stroke-opacity="0.10" stroke-width="0.8"/>
<line x1="455.0" y1="367.5" x2="639.5" y2="367.5" stroke="#fff" stroke-opacity="0.10" stroke-width="0.8"/>
<line x1="455.0" y1="344.7" x2="639.5" y2="344.7" stroke="#fff" stroke-opacity="0.10" stroke-width="0.8"/>
<line x1="455.0" y1="321.9" x2="639.5" y2="321.9" stroke="#fff" stroke-opacity="0.10" stroke-width="0.8"/>
<line x1="455.0" y1="299.1" x2="639.5" y2="299.1" stroke="#fff" stroke-opacity="0.10" stroke-width="0.8"/>
<line x1="455.0" y1="276.2" x2="639.5" y2="276.2" stroke="#fff" stroke-opacity="0.10" stroke-width="0.8"/>
<path d="M552.6,253.4 L552.6,300 L551.4,310 L550.8,330 L550.6,386 Q550.4,399 543.2,413.2" fill="none" stroke="#f2dc2a" stroke-width="2.4" stroke-linejoin="round"/>
<path d="M572.5,253.4 L572.6,300 L573.6,310 L574.4,330 L574.6,388 Q574.8,400 582,413.2" fill="none" stroke="#f2dc2a" stroke-width="2.4" stroke-linejoin="round"/>
<path d="M575.3,346.6 L575.7,340.1 L577.4,333.6 L580,334 L580.6,342.2 L585,341.2 L588.2,346.6 L586.5,353 L587.8,362.7 L583.9,366 L585.6,375.6 L589.3,382.1 L594.7,385.3 L601.1,386.4 L600,394 L595.7,396.1 L594.7,399.4 L591.4,395 L588.2,394 L581.7,397.2 L578.5,395 L576.3,389.7 L577.8,383.2 L580.6,381 L579.1,374.6 L576.3,368.1 Z" fill="none" stroke="#f2dc2a" stroke-width="2.8" stroke-linejoin="round"/>
</g>
<path d="M454.6,253.4 V413.95 H639.5" fill="none" stroke="#333" stroke-width="1.45"/>
<line x1="475.4" y1="413.2" x2="475.4" y2="410.7" stroke="#333" stroke-width="0.9"/>
<line x1="495.9" y1="413.2" x2="495.9" y2="410.7" stroke="#333" stroke-width="0.9"/>
<line x1="516.4" y1="413.2" x2="516.4" y2="410.7" stroke="#333" stroke-width="0.9"/>
<line x1="536.8" y1="413.2" x2="536.8" y2="410.7" stroke="#333" stroke-width="0.9"/>
<line x1="557.2" y1="413.2" x2="557.2" y2="410.7" stroke="#333" stroke-width="0.9"/>
<line x1="577.7" y1="413.2" x2="577.7" y2="410.7" stroke="#333" stroke-width="0.9"/>
<line x1="598.1" y1="413.2" x2="598.1" y2="410.7" stroke="#333" stroke-width="0.9"/>
<line x1="618.6" y1="413.2" x2="618.6" y2="410.7" stroke="#333" stroke-width="0.9"/>
<line x1="639.0" y1="413.2" x2="639.0" y2="410.7" stroke="#333" stroke-width="0.9"/>
<line x1="455.0" y1="390.4" x2="457.5" y2="390.4" stroke="#333" stroke-width="0.9"/>
<line x1="455.0" y1="367.5" x2="457.5" y2="367.5" stroke="#333" stroke-width="0.9"/>
<line x1="455.0" y1="344.7" x2="457.5" y2="344.7" stroke="#333" stroke-width="0.9"/>
<line x1="455.0" y1="321.9" x2="457.5" y2="321.9" stroke="#333" stroke-width="0.9"/>
<line x1="455.0" y1="299.1" x2="457.5" y2="299.1" stroke="#333" stroke-width="0.9"/>
<line x1="455.0" y1="276.2" x2="457.5" y2="276.2" stroke="#333" stroke-width="0.9"/>
<line x1="455.0" y1="253.4" x2="457.5" y2="253.4" stroke="#333" stroke-width="0.9"/>
<text x="448.6" y="417.2" text-anchor="end" font-size="10.8" fill="#1a1a1a">5</text>
<text x="452" y="394.4" text-anchor="end" font-size="10.8" fill="#1a1a1a">10</text>
<text x="452" y="371.5" text-anchor="end" font-size="10.8" fill="#1a1a1a">15</text>
<text x="452" y="348.7" text-anchor="end" font-size="10.8" fill="#1a1a1a">20</text>
<text x="452" y="325.9" text-anchor="end" font-size="10.8" fill="#1a1a1a">25</text>
<text x="452" y="303.1" text-anchor="end" font-size="10.8" fill="#1a1a1a">30</text>
<text x="452" y="280.2" text-anchor="end" font-size="10.8" fill="#1a1a1a">35</text>
<text x="452" y="257.4" text-anchor="end" font-size="10.8" fill="#1a1a1a">40</text>
<text x="454.8" y="424" text-anchor="middle" font-size="10.8" fill="#1a1a1a">0</text>
<text x="495.7" y="424" text-anchor="middle" font-size="10.8" fill="#1a1a1a">1</text>
<text x="536.6" y="424" text-anchor="middle" font-size="10.8" fill="#1a1a1a">2</text>
<text x="577.5" y="424" text-anchor="middle" font-size="10.8" fill="#1a1a1a">3</text>
<text x="618.4" y="424" text-anchor="middle" font-size="10.8" fill="#1a1a1a">4</text>
<rect x="645.2" y="253.4" width="9.8" height="160.8" fill="url(#cbar)" stroke="#333" stroke-width="0.8"/>
<line x1="652.5" y1="253.4" x2="655" y2="253.4" stroke="#333" stroke-width="0.8"/>
<text x="659.5" y="257.4" font-size="11" fill="#1a1a1a">3</text>
<line x1="652.5" y1="280.0" x2="655" y2="280.0" stroke="#333" stroke-width="0.8"/>
<text x="659.5" y="284.0" font-size="11" fill="#1a1a1a">2</text>
<line x1="652.5" y1="306.7" x2="655" y2="306.7" stroke="#333" stroke-width="0.8"/>
<text x="659.5" y="310.7" font-size="11" fill="#1a1a1a">1</text>
<line x1="652.5" y1="333.3" x2="655" y2="333.3" stroke="#333" stroke-width="0.8"/>
<text x="659.5" y="337.3" font-size="11" fill="#1a1a1a">0</text>
<line x1="652.5" y1="359.9" x2="655" y2="359.9" stroke="#333" stroke-width="0.8"/>
<text x="657.5" y="363.9" font-size="11" fill="#1a1a1a">-1</text>
<line x1="652.5" y1="386.6" x2="655" y2="386.6" stroke="#333" stroke-width="0.8"/>
<text x="657.5" y="390.6" font-size="11" fill="#1a1a1a">-2</text>
<line x1="652.5" y1="413.2" x2="655" y2="413.2" stroke="#333" stroke-width="0.8"/>
<text x="657.5" y="417.2" font-size="11" fill="#1a1a1a">-3</text>
<text transform="translate(681.3,371.4) rotate(-90)" textLength="82" lengthAdjust="spacingAndGlyphs" font-style="italic" font-size="16.4" fill="#1a1a1a">Power (dB)</text>
<text transform="translate(430.6,386.4) rotate(-90)" textLength="110.5" lengthAdjust="spacingAndGlyphs" font-style="italic" font-size="16.8" fill="#1a1a1a">Frequency (Hz)</text>
<text x="403.6" y="253.8" font-weight="bold" font-style="italic" font-size="29" fill="#1a1a1a">C.</text>
<path d="M454.6,430.6 V426.4 H474.8 V431.2 H639.5" fill="none" stroke="#333" stroke-width="1.45"/>
<line x1="556.9" y1="427" x2="556.9" y2="431.2" stroke="#333" stroke-width="0.9"/>
<line x1="561.3" y1="427" x2="561.3" y2="431.2" stroke="#333" stroke-width="0.9"/>
<line x1="565.7" y1="427" x2="565.7" y2="431.2" stroke="#333" stroke-width="0.9"/>
<rect x="475.8" y="432.0" width="41.2" height="3.6" fill="#bdbdbf"/>
<rect x="579.2" y="432.0" width="40.8" height="3.6" fill="#bdbdbf"/>
<text x="438.6" y="442.1" font-style="italic" font-size="11.5" fill="#1a1a1a">Target</text>
<text x="550" y="442.3" font-style="italic" font-size="11.2" fill="#1a1a1a">TMS</text>
<text x="475.6" y="447.1" font-style="italic" font-size="12.7" fill="#87878b">Delay 1</text>
<text x="577.6" y="447.1" font-style="italic" font-size="12.7" fill="#87878b">Delay 2</text>
<text x="519.2" y="459.3" textLength="58.4" lengthAdjust="spacingAndGlyphs" font-style="italic" font-size="15.6" fill="#1a1a1a">Time (s)</text>
</svg>
</body></html>
